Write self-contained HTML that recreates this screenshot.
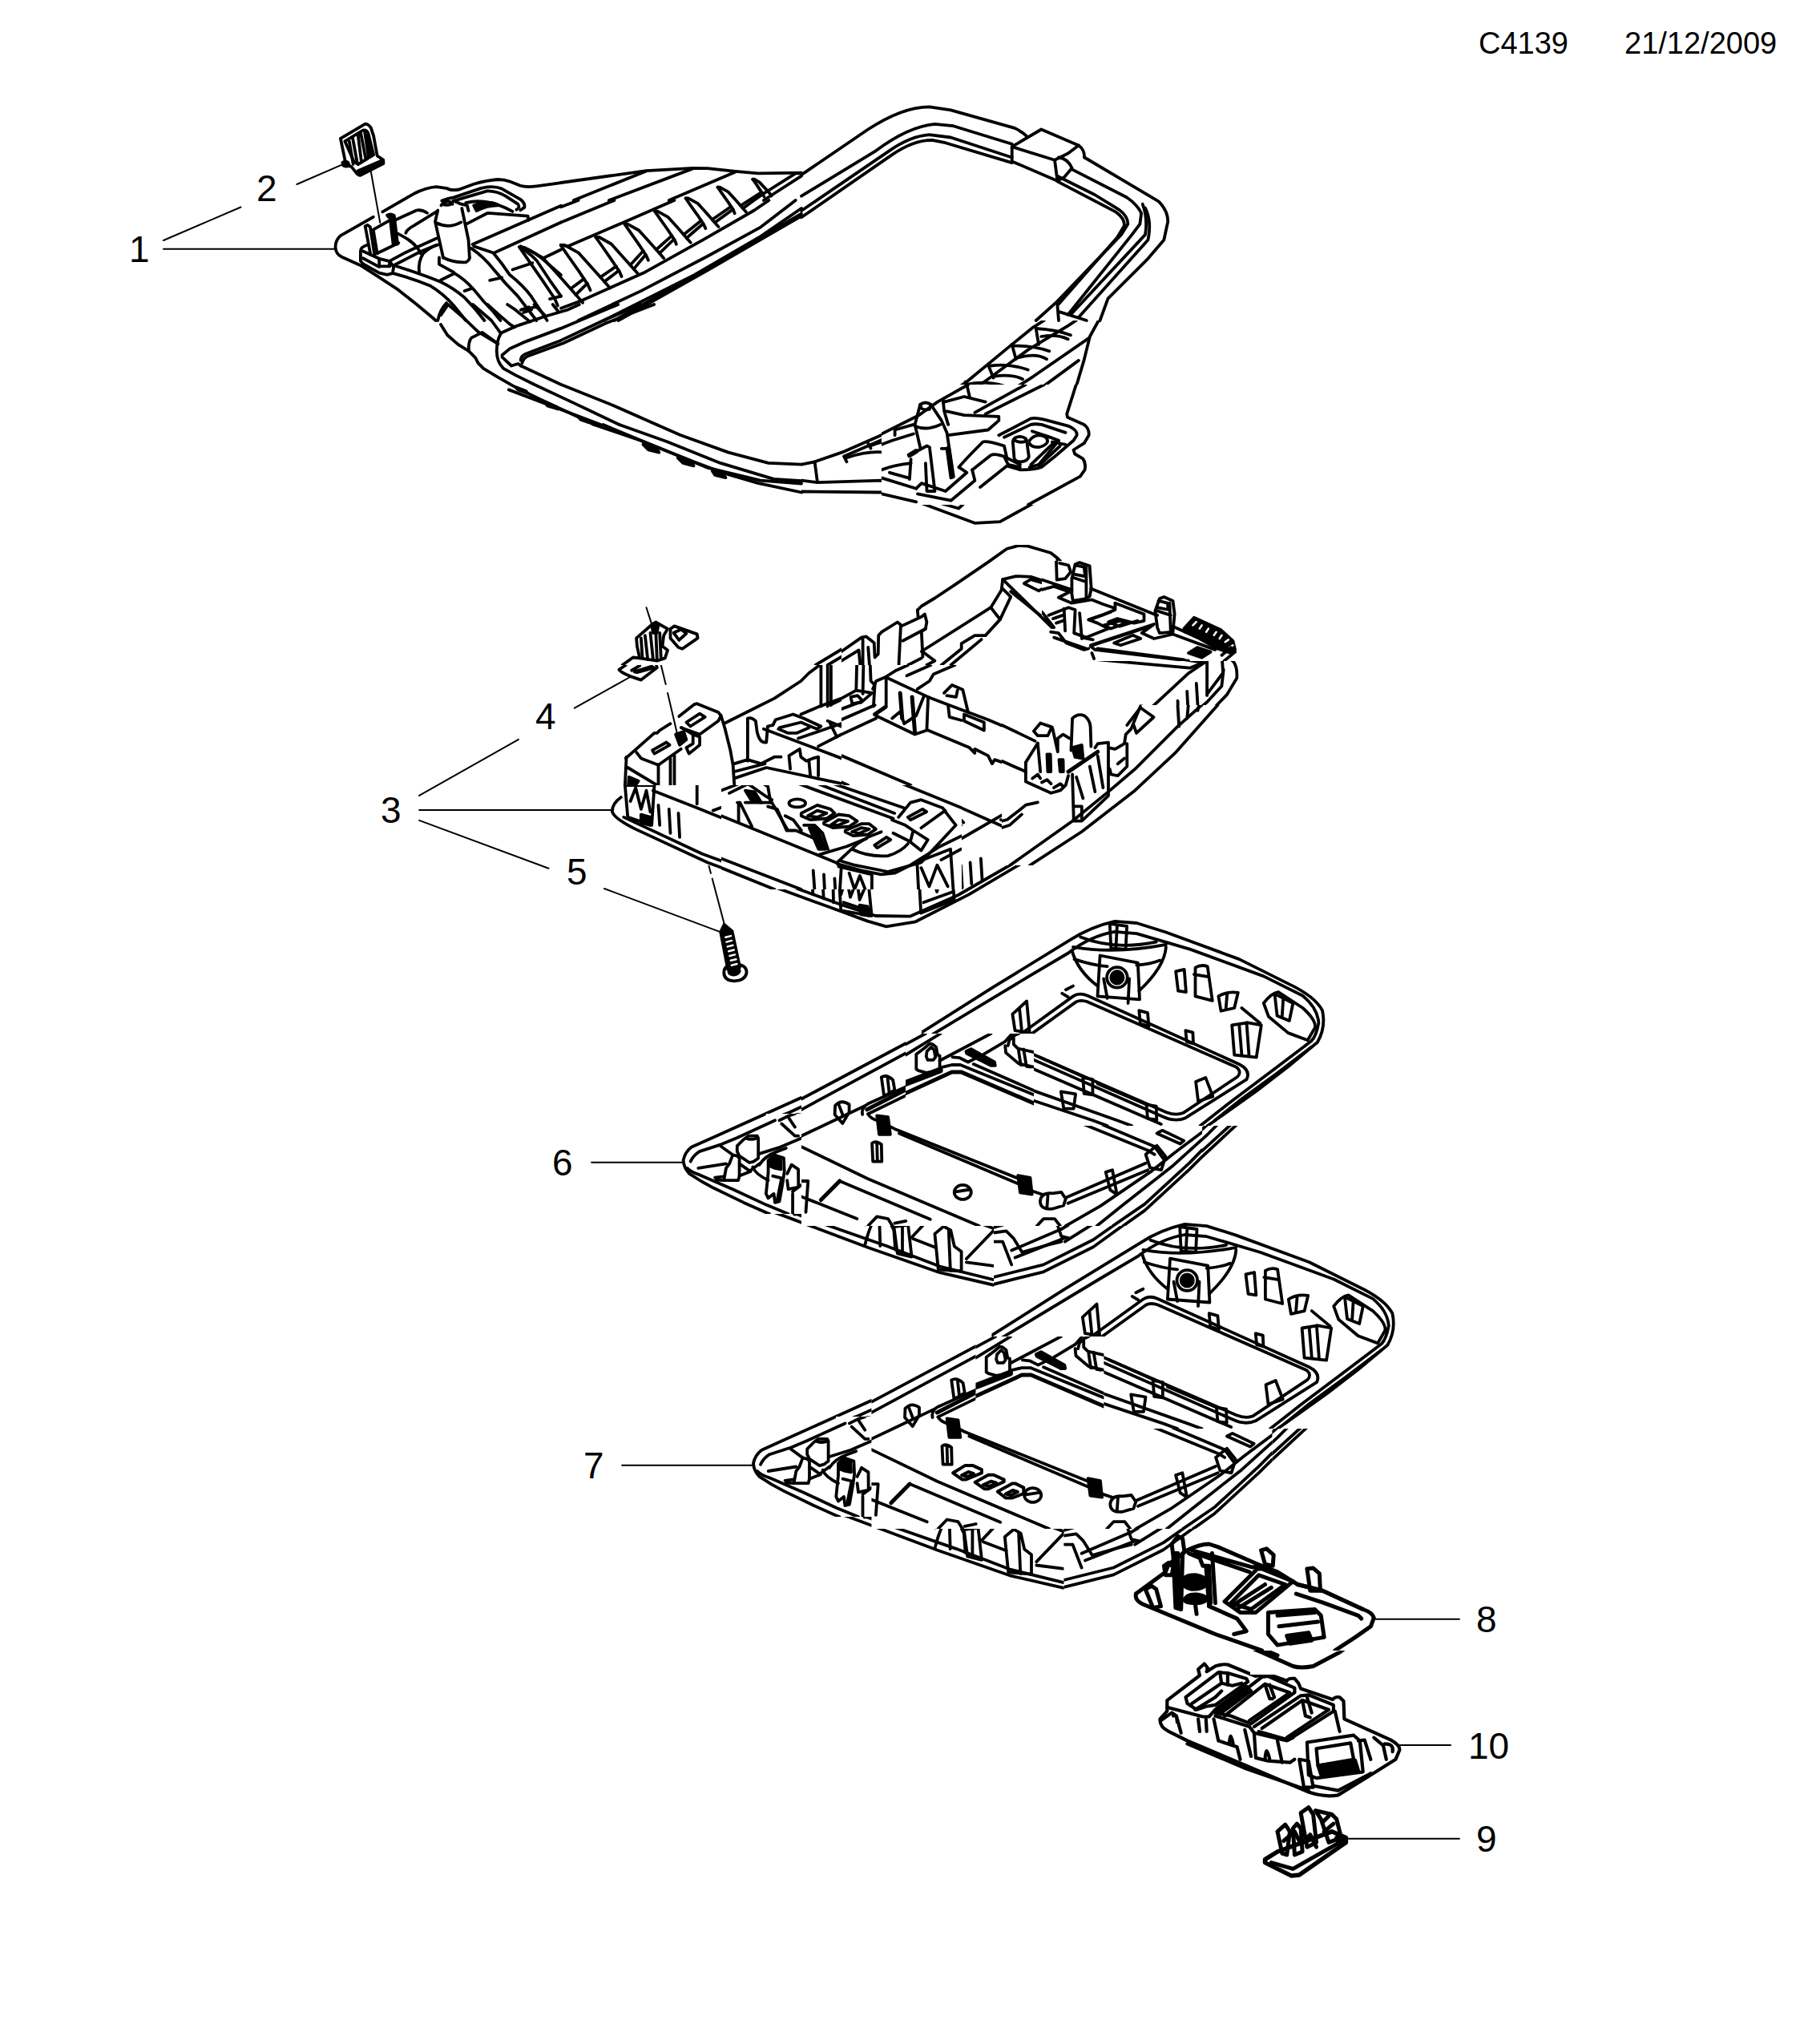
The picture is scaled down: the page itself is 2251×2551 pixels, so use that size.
<!DOCTYPE html>
<html><head><meta charset="utf-8">
<style>
html,body{margin:0;padding:0;background:#fff;width:2251px;height:2551px;overflow:hidden}
svg{display:block}
text{font-family:"Liberation Sans",sans-serif;fill:#000}
</style></head><body>
<svg width="2251" height="2551" viewBox="0 0 2251 2551">
<g font-size="38">
<text x="1845" y="67">C4139</text>
<text x="2027" y="67">21/12/2009</text>
</g>
<g font-size="46">
<text x="161" y="327">1</text>
<text x="320" y="251">2</text>
<text x="475" y="1027">3</text>
<text x="668" y="910">4</text>
<text x="707" y="1104">5</text>
<text x="689" y="1467">6</text>
<text x="728" y="1845">7</text>
<text x="1842" y="2037">8</text>
<text x="1832" y="2195">10</text>
<text x="1842" y="2311">9</text>
</g>
<g stroke="#000" fill="none" stroke-linecap="round" stroke-linejoin="round">
<g id="00_leaders">
<path d="M 204.0 300.0 L 300.5 258.5" stroke-width="2.0"/>
<path d="M 204.0 310.8 H 419.4" stroke-width="2.0"/>
<path d="M 370.4 230.0 L 426.0 205.8" stroke-width="2.0"/>
<path d="M 523.1 992.9 L 647.0 922.8" stroke-width="2.0"/>
<path d="M 716.9 883.7 L 787.0 844.5" stroke-width="2.0"/>
<path d="M 523.1 1010.9 H 761.8" stroke-width="2.0"/>
<path d="M 523.1 1023.9 L 684.5 1083.7" stroke-width="2.0"/>
<path d="M 738.1 1450.7 H 852.9" stroke-width="2.0"/>
<path d="M 776.2 1828.8 H 940.3" stroke-width="2.0"/>
<path d="M 1716.6 2020.7 H 1820.9" stroke-width="2.0"/>
<path d="M 1747.0 2178.0 H 1810.0" stroke-width="2.0"/>
<path d="M 1680.0 2294.7 H 1820.9" stroke-width="2.0"/>
</g>
<g id="10_p1A">
<path d="M 424.9 172.9 L 455.7 154.6 Q 459.5 154.6 462.9 159.6 L 466.2 169.9 L 470.7 194.5 L 478.2 199.5 L 478.5 204.0 L 449.6 218.8 Q 446.6 218.8 444.1 215.2 L 438.6 208.2 L 431.6 205.2 L 424.9 172.9" stroke-width="3.8"/>
<path d="M 430.3 176.3 L 452.9 162.5 Q 457.4 161.6 459.5 166.6 L 466.2 193.2 L 446.9 205.2 L 441.6 201.5 Z" stroke-width="3.8"/>
<path d="M 435.8 176.6 L 440.7 204.9 M 439.9 171.6 L 445.7 202.9 M 446.6 167.4 L 450.7 199.9 M 449.9 164.9 L 456.5 199.0 M 454.9 163.3 L 459.9 196.5 M 458.2 169.1 L 463.2 194.9" stroke-width="3.8"/>
<path d="M 446.6 213.2 L 475.7 200.7 M 448.2 215.7 L 477.3 202.9" stroke-width="3.8"/>
<path d="M 427.4 202.9 Q 429.9 200.7 434.1 202.4 L 435.8 206.5 Q 432.4 208.5 428.3 206.5 Z" fill="#000" stroke="#000" stroke-width="3.8"/>
<path d="M 477.3 264.4 L 516.4 241.8 Q 531.4 234.0 544.7 233.1 L 558.0 235.1 Q 562.1 238.1 572.9 236.5 L 591.2 229.8 Q 607.9 224.8 621.2 224.0 Q 629.5 224.0 636.1 226.5 L 649.4 231.8 Q 656.1 234.0 669.4 232.3 L 700.0 228.1" stroke-width="3.8"/>
<path d="M 551.3 250.6 Q 559.6 247.3 566.3 246.4 L 599.6 235.1 Q 614.5 231.1 626.2 235.6 L 649.4 248.9 Q 655.3 253.1 654.4 258.9 L 649.4 262.2" stroke-width="3.8"/>
<path d="M 566.3 250.6 L 607.9 238.4 Q 619.5 238.1 631.2 244.8 L 646.1 254.7 Q 649.4 258.9 644.5 261.7" stroke-width="3.8"/>
<path d="M 581.3 253.1 Q 607.9 246.4 639.5 263.9" stroke-width="3.8"/>
<path d="M 591.2 256.4 Q 607.9 249.8 619.5 254.7 L 621.2 256.4 Q 607.9 256.4 594.6 263.1 Z" fill="#000" stroke="#000" stroke-width="3.8"/>
<path d="M 552.2 254.7 Q 557.2 257.2 563.0 254.7 M 550.5 256.4 Q 553.0 251.8 559.6 251.4 Q 563.8 252.3 564.6 254.7" stroke-width="3.8"/>
<path d="M 565.5 250.6 L 575.4 254.7 L 582.9 256.4 L 584.6 263.1" stroke-width="3.8"/>
<path d="M 462.4 211.8 L 474.3 278.0" stroke-width="2.0"/>
<path d="M 465.7 270.8 L 424.9 294.1 Q 418.3 299.9 418.6 309.0 Q 419.1 317.4 426.6 320.7 L 449.9 331.2 L 473.2 346.1 L 496.5 361.4 L 519.7 379.7 L 534.7 392.2 L 543.8 400.0" stroke-width="3.8"/>
<path d="M 458.2 305.7 Q 449.9 308.2 449.9 313.2 L 449.9 325.7 L 453.2 329.5 L 473.2 340.6 L 483.1 342.8 L 489.8 341.1 L 491.1 334.0" stroke-width="3.8"/>
<path d="M 452.9 313.5 L 473.2 322.8 L 486.5 326.2 L 491.1 333.1" stroke-width="3.8"/>
<path d="M 452.9 322.3 L 473.2 333.1 M 473.2 323.2 L 473.2 332.3 M 486.5 326.5 L 485.6 332.3 M 473.2 332.3 L 486.5 332.3" stroke-width="3.8"/>
<path d="M 455.7 282.4 L 458.5 280.8 L 461.9 283.3 L 467.4 318.2 M 455.7 282.4 L 462.4 318.2" stroke-width="3.8"/>
<path d="M 465.7 286.6 L 486.5 274.9 M 465.7 286.6 L 470.7 316.5 M 471.5 315.7 L 497.3 303.2" stroke-width="3.8"/>
<path d="M 483.1 268.6 Q 487.3 265.8 491.8 269.1 L 496.1 304.5 L 490.6 304.9 L 486.8 272.5 Q 484.8 271.6 483.1 268.6 Z" fill="#000" stroke="#000" stroke-width="3.8"/>
<path d="M 492.3 274.9 L 519.7 262.5 Q 526.4 261.3 533.0 265.8" stroke-width="3.8"/>
<path d="M 506.4 290.7 Q 508.1 285.8 516.4 281.6 L 544.7 264.1" stroke-width="3.8"/>
<path d="M 486.5 325.7 L 506.4 314.9 L 544.7 297.4" stroke-width="3.8"/>
<path d="M 493.1 330.2 L 524.7 314.0 L 544.7 305.7" stroke-width="3.8"/>
<path d="M 496.5 291.6 Q 513.1 299.9 519.7 308.2 Q 523.9 313.2 524.7 316.5" stroke-width="3.8"/>
<path d="M 523.1 340.6 Q 521.4 326.5 528.0 316.5 Q 536.4 308.2 546.3 305.7" stroke-width="3.8"/>
<path d="M 546.3 262.5 L 543.0 276.6 L 553.0 321.5" stroke-width="3.8"/>
<path d="M 576.3 260.0 L 584.6 299.9 L 585.9 321.5" stroke-width="3.8"/>
<path d="M 544.7 278.3 Q 559.6 285.8 575.4 277.4" stroke-width="3.8"/>
<path d="M 553.0 321.5 Q 566.3 328.2 581.3 327.3 Q 585.9 324.8 585.9 321.5" stroke-width="3.8"/>
<path d="M 548.0 321.5 L 548.0 329.8 L 566.3 339.8" stroke-width="3.8"/>
<path d="M 582.9 279.1 L 608.7 265.8 L 658.6 269.6 L 659.4 274.9" stroke-width="3.8"/>
<path d="M 589.6 304.9 L 700.0 256.7" stroke-width="3.8"/>
<path d="M 591.2 307.4 L 616.2 315.7 L 700.0 277.4" stroke-width="3.8"/>
<path d="M 490.6 341.1 Q 516.4 348.1 536.4 356.4 Q 553.0 366.4 566.3 381.4 L 581.3 400.0" stroke-width="3.8"/>
<path d="M 492.3 331.5 Q 526.4 342.3 549.7 351.8 Q 566.3 359.8 579.6 371.4 Q 592.9 384.7 604.5 400.0" stroke-width="3.8"/>
<path d="M 566.3 340.6 Q 579.6 348.1 591.2 361.4 Q 602.9 376.4 616.2 389.7 L 624.5 400.0" stroke-width="3.8"/>
<path d="M 587.9 309.9 Q 602.9 319.8 616.2 336.5 Q 629.5 353.1 646.1 369.7 L 669.4 400.0" stroke-width="3.8"/>
<path d="M 616.2 316.5 Q 626.2 328.2 636.1 343.1 Q 652.8 356.4 662.7 369.7 L 682.7 400.0" stroke-width="3.8"/>
<path d="M 647.8 308.2 Q 659.4 314.9 669.4 324.8 L 686.0 349.8 L 700.0 369.7" stroke-width="3.8"/>
<path d="M 649.4 307.4 Q 669.4 314.9 682.7 328.2 L 700.0 343.1" stroke-width="3.8"/>
<path d="M 549.7 349.8 L 566.3 341.5 M 579.6 363.1 L 589.6 359.8 M 611.2 349.8 L 626.2 346.5 M 639.5 336.5 L 664.4 328.2 M 651.1 386.4 L 669.4 383.0 M 686.0 373.1 L 700.0 369.7 M 679.4 321.5 L 700.0 311.5" stroke-width="3.8"/>
<path d="M 546.3 400.0 Q 548.8 386.4 557.2 378.0" stroke-width="3.8"/>
</g>
<g id="10_p1B">
<path d="M 1000.0 218.1 L 1083.1 161.5 Q 1126.4 133.3 1159.6 133.3 L 1186.3 137.3 L 1266.1 159.9 Q 1276.1 164.9 1281.0 169.8" stroke-width="3.8"/>
<path d="M 1000.0 244.7 L 1093.1 188.1 Q 1133.0 158.2 1166.3 154.9 L 1189.6 157.2 L 1262.7 179.8" stroke-width="3.8"/>
<path d="M 1000.0 263.0 L 1109.8 188.1 Q 1136.4 169.8 1159.6 168.2 L 1186.3 171.5 L 1262.7 196.5" stroke-width="3.8"/>
<path d="M 1000.0 271.3 L 1113.1 193.1 Q 1139.7 174.8 1163.0 174.8 L 1179.6 178.2 L 1262.7 203.1" stroke-width="3.8"/>
<path d="M 1319.3 219.7 L 1365.9 243.0 L 1395.8 261.3 Q 1407.4 269.6 1407.4 279.6 L 1399.1 292.9 L 1319.3 376.1 L 1292.7 400.0" stroke-width="3.8"/>
<path d="M 1319.3 226.4 L 1392.5 264.6 Q 1403.1 272.3 1403.1 281.3 L 1394.1 296.2 L 1321.0 379.4" stroke-width="3.8"/>
<path d="M 1262.7 199.8 L 1262.7 183.1 L 1299.3 161.5 L 1345.9 181.5 Q 1353.2 186.5 1353.2 196.5" stroke-width="3.8"/>
<path d="M 1262.7 183.1 L 1316.0 199.8 L 1332.6 191.5 L 1345.9 181.5" stroke-width="3.8"/>
<path d="M 1316.0 199.8 L 1319.3 224.7" stroke-width="3.8"/>
<path d="M 1262.7 201.4 L 1319.3 225.7" stroke-width="3.8"/>
<path d="M 1321.0 196.5 Q 1332.6 198.1 1337.6 209.8 L 1327.6 221.4 L 1321.0 224.7" stroke-width="3.8"/>
<path d="M 1353.2 196.5 L 1409.1 229.7 L 1445.7 251.3 Q 1457.3 263.0 1457.3 276.3 L 1452.3 299.6 L 1432.4 322.8 L 1382.5 372.7 L 1372.5 400.0" stroke-width="3.8"/>
<path d="M 1337.6 211.4 L 1405.8 246.3 Q 1419.7 255.7 1424.1 266.3 L 1422.4 279.6 L 1412.4 292.9 L 1332.6 392.7" stroke-width="3.8"/>
<path d="M 1425.7 254.7 Q 1432.4 272.9 1429.0 292.9 L 1335.9 392.7" stroke-width="3.8"/>
<path d="M 1429.0 259.6 Q 1437.4 276.3 1432.4 299.6 L 1345.9 396.0" stroke-width="3.8"/>
<path d="M 1319.3 379.4 L 1321.0 400.0" stroke-width="3.8"/>
<path d="M 1322.6 389.4 L 1355.9 400.0" stroke-width="3.8"/>
</g>
<g id="11_p1A2">
<path d="M 700.0 228.0 L 806.4 213.1 L 864.6 209.8 L 882.9 210.1 L 917.8 213.9 L 946.1 216.4 L 1000.0 215.6" stroke-width="3.8"/>
<path d="M 715.8 250.0 L 806.4 213.4" stroke-width="3.8"/>
<path d="M 759.9 250.0 L 864.6 210.4" stroke-width="3.8"/>
<path d="M 834.7 250.0 L 917.8 214.4" stroke-width="3.8"/>
<path d="M 939.5 250.0 L 992.7 216.4 L 1000.0 216.4" stroke-width="3.8"/>
<path d="M 952.8 250.0 L 1000.0 219.7" stroke-width="3.8"/>
<path d="M 700.0 258.3 L 721.6 250.0" stroke-width="3.8"/>
<path d="M 700.0 277.4 L 766.5 250.0" stroke-width="3.8"/>
<path d="M 700.0 305.7 L 708.3 307.4 L 778.2 277.4 L 841.4 250.0" stroke-width="3.8"/>
<path d="M 700.0 384.7 L 726.6 374.7 L 803.1 340.6 L 876.3 299.9 L 941.1 262.5 L 959.4 250.0" stroke-width="3.8"/>
<path d="M 721.6 400.0 L 799.8 363.1 L 882.9 319.8 L 949.4 283.3 L 992.7 250.0" stroke-width="3.8"/>
<path d="M 753.2 400.0 L 866.3 343.1 L 949.4 294.9 L 1000.0 260.0" stroke-width="3.8"/>
<path d="M 766.5 400.0 L 882.9 334.8 L 1000.0 266.6" stroke-width="3.8"/>
<path d="M 771.5 400.0 L 882.9 337.3 L 1000.0 269.6" stroke-width="3.8"/>
<path d="M 648.6 309.2 L 659.8 325.4 L 677.2 350.4 L 692.2 372.8 L 695.9 381.6" stroke-width="3.8"/>
<path d="M 648.6 309.2 L 654.8 309.2 L 677.2 321.7 L 699.7 346.6 L 719.6 369.1 L 727.1 377.8" stroke-width="3.8"/>
<path d="M 712.2 360.3 L 728.9 347.9" stroke-width="3.8"/>
<path d="M 718.4 367.8 L 732.9 353.6" stroke-width="3.8"/>
<path d="M 699.7 306.0 L 708.4 318.7 L 722.1 338.1 L 733.6 355.6 L 736.6 362.3" stroke-width="3.8"/>
<path d="M 699.7 306.0 L 704.7 306.0 L 722.1 315.7 L 739.6 335.2 L 755.1 352.6 L 761.1 359.6" stroke-width="3.8"/>
<path d="M 749.3 345.9 L 768.8 332.4" stroke-width="3.8"/>
<path d="M 754.1 351.6 L 772.3 337.6" stroke-width="3.8"/>
<path d="M 743.3 296.0 L 751.1 307.0 L 762.8 323.9 L 773.0 339.1 L 775.5 345.1" stroke-width="3.8"/>
<path d="M 743.3 296.0 L 747.6 296.0 L 762.8 304.5 L 778.0 321.4 L 791.7 336.7 L 796.7 342.6" stroke-width="3.8"/>
<path d="M 786.5 330.7 L 802.7 313.0" stroke-width="3.8"/>
<path d="M 790.7 335.9 L 805.7 317.7" stroke-width="3.8"/>
<path d="M 779.5 279.8 L 786.5 289.8 L 797.2 305.2 L 806.5 319.2 L 808.9 324.7" stroke-width="3.8"/>
<path d="M 779.5 279.8 L 783.5 279.8 L 797.2 287.5 L 811.2 303.0 L 823.7 316.9 L 828.2 322.2" stroke-width="3.8"/>
<path d="M 818.9 311.5 L 838.4 294.2" stroke-width="3.8"/>
<path d="M 822.9 316.2 L 841.1 298.5" stroke-width="3.8"/>
<path d="M 816.9 263.6 L 823.4 272.8 L 833.4 287.0 L 841.9 299.7 L 843.9 304.7" stroke-width="3.8"/>
<path d="M 816.9 263.6 L 820.4 263.6 L 833.4 270.8 L 846.1 284.8 L 857.3 297.7 L 861.8 302.7" stroke-width="3.8"/>
<path d="M 853.1 292.7 L 875.0 275.3" stroke-width="3.8"/>
<path d="M 856.8 297.0 L 877.5 279.0" stroke-width="3.8"/>
<path d="M 855.6 247.4 L 861.3 255.8 L 870.6 268.8 L 878.3 280.5 L 880.3 285.0" stroke-width="3.8"/>
<path d="M 855.6 247.4 L 858.8 247.4 L 870.6 253.8 L 882.3 266.8 L 892.5 278.5 L 896.5 283.0" stroke-width="3.8"/>
<path d="M 888.8 274.0 L 912.2 257.8" stroke-width="3.8"/>
<path d="M 892.0 277.8 L 914.7 261.1" stroke-width="3.8"/>
<path d="M 895.5 233.6 L 900.5 240.9 L 908.5 252.1 L 915.2 262.3 L 916.7 266.3" stroke-width="3.8"/>
<path d="M 895.5 233.6 L 898.2 233.6 L 908.5 239.4 L 918.5 250.3 L 927.4 260.6 L 930.9 264.6" stroke-width="3.8"/>
<path d="M 924.2 256.6 L 950.4 239.9" stroke-width="3.8"/>
<path d="M 926.9 260.1 L 951.9 241.9" stroke-width="3.8"/>
<path d="M 939.2 223.7 L 942.6 228.4 L 947.6 235.9 L 952.1 242.9 L 953.4 245.4" stroke-width="3.8"/>
<path d="M 939.2 223.7 L 941.2 223.7 L 947.6 227.4 L 954.6 234.9 L 960.6 241.6 L 962.6 244.4" stroke-width="3.8"/>
</g>
<g id="12_p1C">
<path d="M 550.0 404.9 L 558.3 418.2 L 571.6 429.9 L 584.9 438.2 L 593.2 446.5 L 596.6 453.2 L 603.2 459.8 L 619.8 469.8 L 639.8 481.4 L 666.4 494.7 L 691.4 506.4 L 716.3 518.0 L 741.2 530.0" stroke-width="3.8"/>
<path d="M 550.0 393.3 L 557.5 382.5" stroke-width="3.8"/>
<path d="M 559.1 380.0 L 578.3 396.6 L 596.6 414.1 L 619.8 428.2" stroke-width="3.8"/>
<path d="M 589.9 380.0 L 613.2 400.0 L 624.8 415.8" stroke-width="3.8"/>
<path d="M 608.2 380.0 L 623.2 393.3 L 636.5 404.9 L 642.3 408.3" stroke-width="3.8"/>
<path d="M 633.1 380.0 L 643.1 386.7 L 661.4 401.6" stroke-width="3.8"/>
<path d="M 649.8 386.7 L 659.8 383.3 M 653.1 390.0 L 663.1 386.7" stroke-width="3.8"/>
<path d="M 666.4 380.0 L 679.7 393.3 M 689.7 380.0 L 696.3 388.3" stroke-width="3.8"/>
<path d="M 624.8 415.8 L 643.1 407.4 L 679.7 395.0 L 708.0 386.7 L 722.9 380.0" stroke-width="3.8"/>
<path d="M 624.8 416.6 Q 619.8 424.9 619.8 438.2 Q 619.8 451.5 628.2 459.8 L 643.1 468.1 L 666.4 479.8 L 716.3 503.1 L 772.8 530.0" stroke-width="3.8"/>
<path d="M 626.5 443.2 L 636.5 434.9 L 653.1 427.4 L 699.7 409.9 L 771.2 380.0" stroke-width="3.8"/>
<path d="M 626.5 445.7 L 638.1 456.5 L 646.5 454.0 L 649.8 456.5" stroke-width="3.8"/>
<path d="M 649.8 449.8 Q 649.8 444.0 656.4 441.5 L 699.7 424.9 L 752.9 400.0 L 799.4 380.0" stroke-width="3.8"/>
<path d="M 651.4 453.2 Q 653.1 446.5 659.8 444.0 L 703.0 428.2 L 756.2 403.3 L 816.1 380.0" stroke-width="3.8"/>
<path d="M 649.8 456.5 L 699.7 479.8 L 766.2 506.4 L 819.4 530.0" stroke-width="3.8"/>
<path d="M 584.9 438.2 Q 584.1 426.6 588.2 421.6 L 601.6 414.9 L 621.5 429.1" stroke-width="3.8"/>
<path d="M 634.8 486.4 L 749.6 530.0" stroke-width="3.8"/>
<path d="M 643.1 483.1 L 656.4 488.1 L 658.1 490.6 L 646.5 486.4 Z" fill="#000" stroke="#000" stroke-width="3.8"/>
<path d="M 679.7 501.4 L 694.7 508.0 L 696.3 510.5 L 683.0 506.4 Z" fill="#000" stroke="#000" stroke-width="3.8"/>
<path d="M 721.3 519.7 L 732.9 524.7 L 734.6 527.2 L 724.6 523.8 Z" fill="#000" stroke="#000" stroke-width="3.8"/>
<path d="M 741.2 530.0 L 799.1 549.7 L 865.6 576.3 L 905.5 591.2 L 945.5 602.9 L 1000.0 614.5" stroke-width="3.8"/>
<path d="M 752.5 530.0 L 815.7 556.3 L 882.3 583.6 L 948.8 599.6 L 1000.0 603.5" stroke-width="3.8"/>
<path d="M 772.8 530.0 L 832.4 551.3 L 898.9 577.9 L 965.4 597.9 L 1000.0 600.2" stroke-width="3.8"/>
<path d="M 819.4 530.0 L 849.0 543.0 L 908.9 564.6 L 958.8 577.9 L 1000.0 579.6" stroke-width="3.8"/>
<path d="M 802.4 554.7 L 819.1 559.6 L 822.4 564.6 L 809.1 561.3 Z" fill="#000" stroke="#000" stroke-width="3.8"/>
<path d="M 845.7 571.3 L 862.3 576.3 L 865.6 581.3 L 852.3 577.9 Z" fill="#000" stroke="#000" stroke-width="3.8"/>
<path d="M 888.9 587.9 L 902.2 591.2 L 905.5 596.2 L 892.2 592.9 Z" fill="#000" stroke="#000" stroke-width="3.8"/>
</g>
<g id="13_p1D">
<clipPath id="c1"><path clip-rule="evenodd" d="M1000.0 400.0H1600.0V700.0H1000.0ZM1100.0 480.0V630.0H1400.0V480.0Z"/></clipPath><g clip-path="url(#c1)">
<path d="M 1000.0 613.5 L 1099.8 614.5 L 1146.3 626.8 L 1216.2 652.8 L 1247.8 651.1 L 1347.6 596.2 Q 1355.2 587.9 1353.2 574.6 Q 1350.9 566.3 1339.2 563.0 Q 1357.5 551.3 1357.5 536.4 Q 1356.5 528.0 1345.9 524.7 L 1331.9 519.1 L 1352.5 449.9 L 1359.9 420.0 L 1370.8 400.0" stroke-width="3.8"/>
<path d="M 1000.0 599.6 L 1020.0 602.2 L 1099.8 599.6 L 1143.0 619.5 L 1196.2 634.5 L 1219.5 612.9 L 1259.4 584.6 L 1286.0 586.3" stroke-width="3.8"/>
<path d="M 1000.0 579.6 L 1016.6 576.3 L 1053.2 563.6 L 1114.7 536.4 L 1156.3 509.8 L 1206.2 476.5 L 1262.7 429.9 L 1289.4 408.3 L 1302.7 400.0" stroke-width="3.8"/>
<path d="M 1016.6 576.3 L 1020.0 602.2" stroke-width="3.8"/>
<path d="M 1053.2 569.6 L 1133.0 534.7 L 1176.3 513.1 L 1232.8 473.2 L 1282.7 436.6 L 1332.6 406.7 L 1342.6 400.0" stroke-width="3.8"/>
<path d="M 1216.2 516.4 L 1289.4 469.8 L 1359.2 421.6" stroke-width="3.8"/>
<path d="M 1246.1 523.1 L 1345.9 449.9" stroke-width="3.8"/>
<path d="M 1053.2 569.6 L 1056.5 576.3 M 1083.1 553.0 L 1086.5 559.6 M 1114.7 536.4 L 1118.1 543.0 M 1174.6 498.1 L 1176.3 513.1 M 1204.5 476.5 L 1207.9 496.5 M 1232.8 454.9 L 1239.5 471.5 M 1262.7 429.9 L 1267.7 448.2 M 1292.7 410.0 L 1296.0 429.9" stroke-width="3.8"/>
<path d="M 1056.5 571.3 Q 1099.8 556.3 1133.0 572.9 M 1086.5 556.3 Q 1109.8 546.3 1126.4 553.0 M 1176.3 499.8 Q 1199.6 494.8 1216.2 514.7 M 1206.2 479.8 Q 1229.5 474.8 1252.8 481.5 M 1236.1 456.5 Q 1259.4 453.2 1282.7 461.5 M 1266.1 431.6 Q 1289.4 431.6 1309.3 438.2 M 1292.7 410.0 Q 1319.3 411.6 1335.9 418.3" stroke-width="3.8"/>
<path d="M 1209.5 499.8 Q 1232.8 489.8 1252.8 499.8 M 1239.5 469.8 Q 1262.7 466.5 1276.1 473.2 M 1269.4 446.6 Q 1292.7 439.9 1306.0 448.2 M 1299.3 420.0 Q 1319.3 416.6 1332.6 423.3" stroke-width="3.8"/>
<path d="M 1146.3 508.1 Q 1156.3 499.8 1164.6 506.4 L 1176.3 533.0 L 1186.3 592.9" stroke-width="3.8"/>
<path d="M 1146.3 509.8 L 1143.0 536.4 L 1149.7 572.9 L 1158.0 586.3" stroke-width="3.8"/>
<path d="M 1144.7 533.0 Q 1159.6 539.7 1176.3 531.4" stroke-width="3.8"/>
<path d="M 1156.3 556.3 L 1166.3 612.9" stroke-width="3.8"/>
<path d="M 1134.7 576.3 L 1154.7 561.3 L 1159.0 599.6 L 1137.0 599.6 Z" fill="#000" stroke="#000" stroke-width="3.8"/>
<path d="M 1143.0 606.2 L 1146.3 626.2 M 1146.3 606.2 L 1196.2 626.2 L 1212.9 612.9 L 1199.6 592.9 L 1146.3 606.2 M 1172.9 612.9 L 1199.6 599.6" stroke-width="3.8"/>
<path d="M 1184.6 543.0 L 1232.8 536.4 L 1246.1 529.7 M 1196.2 586.3 L 1229.5 551.3 L 1246.1 553.0 L 1256.1 566.3 L 1262.7 569.6 M 1206.2 596.2 L 1239.5 566.3 L 1256.1 569.6 L 1266.1 579.6 L 1282.7 584.6" stroke-width="3.8"/>
<path d="M 1262.7 553.0 A 9.3 9.3 0 1 1 1281.4 553.0 A 9.3 9.3 0 1 1 1262.7 553.0 Z" stroke-width="3.8"/>
<path d="M 1262.7 556.3 L 1266.1 576.3 Q 1272.7 581.3 1282.7 576.3 L 1284.4 556.3" stroke-width="3.8"/>
<path d="M 1252.8 543.0 Q 1269.4 524.7 1292.7 523.1 L 1332.6 531.4 Q 1345.9 536.4 1342.6 546.3 L 1289.4 586.3" stroke-width="3.8"/>
<path d="M 1262.7 546.3 Q 1279.4 531.4 1296.0 531.4 L 1329.3 538.0 L 1332.6 544.7 L 1286.0 579.6" stroke-width="3.8"/>
<path d="M 1282.7 556.3 L 1319.3 553.0 L 1329.3 556.3 L 1289.4 582.9" stroke-width="3.8"/>
</g>
</g>
<g id="14_p1Z11">
<clipPath id="c2"><path clip-rule="evenodd" d="M1100.0 480.0H1400.0V630.0H1100.0Z"/></clipPath><g clip-path="url(#c2)">
<path d="M 1342.8 480.0 L 1331.2 516.6 L 1332.0 520.7 L 1352.8 529.9 Q 1359.4 534.9 1358.6 543.2 L 1352.8 553.2 L 1339.5 561.5 L 1341.1 566.5 L 1351.1 572.3 Q 1355.3 578.1 1353.6 586.4 L 1347.8 594.7 L 1282.9 630.0" stroke-width="3.8"/>
<path d="M 1246.3 543.2 L 1286.3 522.4 Q 1291.2 520.7 1302.9 523.6 L 1332.8 531.6 Q 1344.5 536.5 1343.6 543.2 L 1339.5 549.8 L 1316.2 569.8 L 1299.6 583.1 Q 1291.2 586.4 1274.6 586.4" stroke-width="3.8"/>
<path d="M 1253.0 545.7 L 1286.3 529.9 Q 1291.2 528.6 1299.6 529.9 L 1329.5 539.9" stroke-width="3.8"/>
<path d="M 1287.9 538.2 L 1307.9 544.9 L 1321.2 549.8 L 1296.2 579.8 L 1284.6 583.1" stroke-width="3.8"/>
<path d="M 1263.8 551.5 Q 1264.6 544.9 1272.9 544.9 Q 1281.3 545.7 1281.3 551.5 L 1283.8 569.8 Q 1282.9 575.6 1272.9 576.5 Q 1266.3 575.6 1265.5 571.5 Z" stroke-width="3.8"/>
<path d="M 1266.3 549.8 Q 1272.9 553.2 1279.6 550.7" stroke-width="3.8"/>
<path d="M 1284.6 549.8 Q 1289.6 543.2 1297.9 543.2 Q 1307.9 544.9 1307.0 551.5 Q 1304.5 556.5 1296.2 558.2 Q 1286.3 558.2 1284.6 553.2" stroke-width="3.8"/>
<path d="M 1286.3 579.8 L 1316.2 551.5 M 1296.2 581.4 L 1322.8 556.5 M 1312.9 551.5 L 1329.5 554.8" stroke-width="3.8"/>
<path d="M 1196.5 583.1 Q 1203.1 574.8 1226.4 551.5 Q 1231.4 549.8 1253.0 556.5 L 1256.3 571.5 L 1272.9 579.8" stroke-width="3.8"/>
<path d="M 1213.1 586.4 L 1236.4 568.1 Q 1241.4 565.6 1253.0 569.8 L 1258.0 579.8 L 1272.9 583.1" stroke-width="3.8"/>
<path d="M 1223.1 608.0 L 1256.3 581.4 L 1272.9 586.4" stroke-width="3.8"/>
<path d="M 1148.2 504.9 Q 1154.9 500.0 1161.5 504.9 L 1159.9 510.8 Q 1154.9 512.4 1149.9 509.9 Z" stroke-width="3.8"/>
<path d="M 1148.2 504.9 L 1141.6 529.9 L 1148.2 558.2 M 1161.5 504.9 L 1174.8 524.9 L 1181.5 539.9 L 1189.8 594.7" stroke-width="3.8"/>
<path d="M 1141.6 531.6 Q 1154.9 538.2 1173.2 529.9" stroke-width="3.8"/>
<path d="M 1134.9 568.1 L 1156.5 556.5 L 1159.9 558.2 L 1166.5 613.0 L 1156.5 613.0 L 1154.9 578.1" stroke-width="3.8"/>
<path d="M 1136.6 573.1 L 1134.9 598.1" stroke-width="3.8"/>
<path d="M 1134.9 568.1 L 1143.2 563.1 M 1183.1 559.8 L 1188.1 594.7" stroke-width="6.0"/>
<path d="M 1174.8 559.8 L 1181.5 559.8 L 1186.5 596.4" stroke-width="3.8"/>
<path d="M 1143.2 609.7 L 1149.9 603.1 L 1179.8 613.0 L 1206.4 589.8 L 1196.5 583.1" stroke-width="3.8"/>
<path d="M 1144.9 616.4 L 1186.5 624.7 L 1216.4 599.7 L 1213.1 586.4" stroke-width="3.8"/>
<path d="M 1100.0 541.5 L 1146.6 518.2 L 1169.8 501.6 L 1208.1 480.0" stroke-width="3.8"/>
<path d="M 1100.0 554.8 L 1113.3 549.8 L 1139.9 541.5 M 1116.6 536.5 L 1139.9 529.9 M 1116.6 536.5 L 1116.6 543.2" stroke-width="3.8"/>
<path d="M 1176.5 498.3 L 1178.2 513.3 L 1183.1 529.9 M 1178.2 501.6 L 1203.1 495.0 L 1229.7 501.6" stroke-width="3.8"/>
<path d="M 1181.5 513.3 L 1203.1 518.2 L 1246.3 519.9 L 1246.3 524.9 L 1233.0 536.5 L 1183.1 543.2" stroke-width="3.8"/>
<path d="M 1206.4 480.0 L 1209.8 495.0 M 1216.4 514.9 L 1279.6 480.0 M 1229.7 516.6 L 1302.9 480.0" stroke-width="3.8"/>
<path d="M 1100.0 586.4 Q 1116.6 579.8 1136.6 578.1 M 1100.0 596.4 L 1143.2 609.7 M 1100.0 616.4 L 1143.2 626.3 M 1110.0 589.8 L 1133.3 596.4" stroke-width="3.8"/>
</g>
</g>
<g id="20_p3Q">
<clipPath id="c3"><path clip-rule="evenodd" d="M750.0 680.0H1050.0V830.0H750.0Z"/></clipPath><g clip-path="url(#c3)">
<path d="M 806.5 758.2 L 812.9 778.1" stroke-width="2.0"/>
<path d="M 794.1 796.4 L 813.2 779.8 L 818.2 776.5 L 833.1 784.8 L 828.2 793.1 L 826.5 806.4 L 833.1 811.4 L 829.8 821.4 L 819.8 824.7 L 798.2 821.4 L 794.9 806.4 Z" stroke-width="3.8"/>
<path d="M 799.9 796.4 L 801.6 821.4 M 804.9 793.1 L 808.2 823.0 M 811.5 789.8 L 814.9 823.0 M 818.2 786.4 L 819.8 823.0 M 823.2 789.8 L 824.8 821.4" stroke-width="3.8"/>
<path d="M 813.2 779.8 Q 818.2 774.8 821.5 779.8 L 819.8 789.8 L 814.9 789.8 Z" fill="#000" stroke="#000" stroke-width="3.8"/>
<path d="M 836.5 784.8 L 841.5 781.4 L 869.7 791.4 L 870.6 796.4 L 851.4 809.7 L 846.5 808.0 L 836.5 796.4 Z" stroke-width="3.8"/>
<path d="M 840.6 789.8 L 849.8 785.6 L 856.4 790.6 L 847.3 798.9 Z" stroke-width="3.8"/>
<path d="M 776.6 830.0 L 789.9 820.5 L 798.2 821.4" stroke-width="3.8"/>
<path d="M 1017.7 830.0 L 1050.0 810.5 M 1032.7 830.0 L 1050.0 819.7" stroke-width="3.8"/>
</g>
<clipPath id="c4"><path clip-rule="evenodd" d="M1050.0 680.0H1350.0V830.0H1050.0ZM1300.0 700.0V825.0H1350.0V700.0Z"/></clipPath><g clip-path="url(#c4)">
<path d="M 1050.0 813.0 L 1074.9 795.6 L 1080.8 794.4 L 1090.7 802.2 L 1091.6 820.5 L 1095.7 816.4 L 1096.2 793.1 L 1099.9 788.9 L 1119.8 776.5 L 1124.0 779.8 L 1121.5 830.0" stroke-width="3.8"/>
<path d="M 1124.8 781.4 L 1149.8 769.8 L 1153.9 766.5 L 1156.4 776.5 L 1154.8 784.8 L 1149.8 788.1 L 1151.4 819.7" stroke-width="3.8"/>
<path d="M 1126.5 799.7 L 1154.8 784.8" stroke-width="3.8"/>
<path d="M 1144.8 761.5 L 1149.8 756.5 L 1166.4 746.5 L 1191.4 729.9 L 1232.9 701.6 L 1256.2 685.0 L 1271.2 680.8 L 1282.8 681.7 L 1311.1 690.0 L 1319.4 696.6 L 1324.4 701.6 L 1336.0 708.3 L 1337.7 716.6" stroke-width="3.8"/>
<path d="M 1144.8 761.5 L 1145.6 769.8" stroke-width="3.8"/>
<path d="M 1149.8 813.0 L 1236.3 758.2 L 1249.6 736.5 L 1251.2 723.2 L 1267.8 719.1 L 1286.1 719.9 L 1309.4 727.4 L 1337.7 736.5" stroke-width="3.8"/>
<path d="M 1236.3 758.2 L 1247.9 773.1 L 1261.2 744.9 L 1251.2 734.9" stroke-width="3.8"/>
<path d="M 1247.9 773.1 L 1229.6 793.1 L 1216.3 793.1 L 1199.7 803.1 L 1199.7 809.7 L 1174.7 830.0" stroke-width="3.8"/>
<path d="M 1224.6 798.1 L 1186.4 830.0" stroke-width="3.8"/>
<path d="M 1251.2 723.2 L 1312.7 783.1 L 1319.4 793.1" stroke-width="3.8"/>
<path d="M 1261.2 738.2 L 1349.3 809.7" stroke-width="3.8"/>
<path d="M 1277.8 728.2 L 1286.1 723.2 L 1309.4 729.9 L 1296.1 737.4 Z" stroke-width="3.8"/>
<path d="M 1319.4 696.6 L 1321.1 723.2 L 1332.7 721.6 L 1337.7 714.9" stroke-width="3.8"/>
<path d="M 1321.1 746.5 L 1336.0 738.2 L 1339.4 749.8 L 1350.0 753.2" stroke-width="3.8"/>
<path d="M 1307.8 768.1 L 1332.7 759.8 L 1350.0 756.5" stroke-width="3.8"/>
<path d="M 1312.7 788.1 L 1316.1 796.4 L 1329.4 808.0 L 1350.0 813.0" stroke-width="6.0"/>
<path d="M 1339.4 703.3 L 1342.7 701.6 L 1350.0 703.3 M 1340.2 709.9 L 1341.0 749.8" stroke-width="3.8"/>
<path d="M 1050.0 824.7 L 1071.6 811.4 L 1073.3 830.0 M 1076.6 798.1 L 1076.6 830.0 M 1083.3 808.0 L 1084.9 830.0" stroke-width="3.8"/>
<path d="M 1153.1 814.7 L 1166.4 824.7 L 1156.4 830.0 M 1133.1 830.0 L 1149.8 821.4" stroke-width="3.8"/>
</g>
<clipPath id="c5"><path clip-rule="evenodd" d="M750.0 830.0H1050.0V980.0H750.0Z"/></clipPath><g clip-path="url(#c5)">
<path d="M 772.5 835.8 L 780.8 830.0 M 772.5 835.8 Q 773.3 838.3 786.6 844.1 L 799.9 848.6 L 819.8 833.3 L 819.0 830.0" stroke-width="3.8"/>
<path d="M 788.2 836.7 L 798.2 830.8 M 791.6 838.3 L 813.2 831.7 L 815.7 833.3 L 794.9 839.1 Z" stroke-width="3.8"/>
<path d="M 824.8 830.0 L 830.7 854.1 M 833.1 864.9 L 846.5 922.3" stroke-width="2.0"/>
<path d="M 780.8 946.4 L 816.5 914.8 L 819.8 914.8 L 823.2 911.5 L 836.5 903.2" stroke-width="3.8"/>
<path d="M 781.6 944.7 L 779.9 980.0" stroke-width="3.8"/>
<path d="M 794.1 938.9 L 799.9 946.4 L 821.5 954.7 L 849.8 934.8" stroke-width="3.8"/>
<path d="M 821.5 954.7 L 821.5 980.0 M 836.5 946.4 L 836.5 980.0 M 841.5 943.1 L 841.5 980.0" stroke-width="3.8"/>
<path d="M 814.0 936.4 L 831.5 926.5 L 835.6 929.8 L 816.5 940.6 Z" stroke-width="3.8"/>
<path d="M 783.3 958.0 L 819.8 980.0" stroke-width="3.8"/>
<path d="M 784.9 969.7 L 796.6 974.7 L 793.2 980.0 L 784.1 980.0 Z" fill="#000" stroke="#000" stroke-width="3.8"/>
<path d="M 847.3 894.0 L 866.4 879.1 L 869.7 878.2 L 896.3 889.0 L 899.7 893.2 L 896.3 899.8 L 873.1 916.5 L 849.8 908.2" stroke-width="3.8"/>
<path d="M 856.4 901.5 L 873.1 890.7 L 879.7 894.9 L 861.4 906.5 Z" stroke-width="3.8"/>
<path d="M 850.6 908.2 L 864.7 916.5 L 873.1 919.8 L 873.1 929.8 L 859.8 940.6 L 856.4 933.1 M 864.7 917.3 L 864.7 928.1 L 856.4 933.1" stroke-width="3.8"/>
<path d="M 843.1 916.5 L 853.1 913.1 L 856.4 923.1 L 848.1 929.8 Z" fill="#000" stroke="#000" stroke-width="3.8"/>
<path d="M 899.7 893.2 L 904.7 909.8 L 911.3 936.4 L 914.6 954.7 L 916.3 980.0" stroke-width="3.8"/>
<path d="M 903.0 903.2 L 932.9 888.2 L 966.2 871.6 L 999.4 850.0 L 1009.4 840.0 L 1022.7 830.0" stroke-width="3.8"/>
<path d="M 1024.4 830.0 L 1024.4 881.6 M 1032.7 830.0 L 1032.7 881.6 M 1036.9 830.0 L 1036.9 879.9" stroke-width="3.8"/>
<path d="M 999.4 891.5 L 1022.7 881.6 L 1050.0 871.6 M 1036.0 879.9 L 1050.0 873.2" stroke-width="3.8"/>
<path d="M 932.9 949.7 L 932.9 896.5 Q 937.9 894.9 942.9 899.8 L 944.6 913.1 Q 947.9 928.1 956.2 926.5 L 957.9 906.5 L 964.5 904.8" stroke-width="3.8"/>
<path d="M 964.5 904.8 L 967.8 898.2 L 989.5 891.5 L 1002.8 896.5 L 1024.4 906.5 L 1019.4 909.8 L 999.4 901.5 L 972.8 908.2" stroke-width="3.8"/>
<path d="M 971.2 909.8 L 982.8 914.8 L 994.5 914.8 L 1009.4 908.2" stroke-width="3.8"/>
<path d="M 952.9 909.8 L 1050.0 946.4" stroke-width="3.8"/>
<path d="M 996.1 921.5 L 1049.3 903.2 M 1021.1 931.4 L 1050.0 916.5" stroke-width="3.8"/>
<path d="M 916.3 953.1 L 932.9 948.1 L 949.6 953.1 L 966.2 944.7 L 974.5 944.7" stroke-width="3.8"/>
<path d="M 916.3 963.0 L 954.5 953.1 M 916.3 971.4 L 956.2 958.0 L 1050.0 978.0" stroke-width="3.8"/>
<path d="M 984.5 943.1 L 997.8 934.8 L 999.4 944.7 L 1006.1 949.7 L 1014.4 946.4 L 1021.1 944.7 L 1021.1 968.0 M 984.5 943.1 L 986.1 959.7 M 1009.4 949.7 L 1011.1 968.0" stroke-width="3.8"/>
<path d="M 1032.7 899.8 L 1049.3 906.5 M 1036.0 903.2 L 1044.3 919.8" stroke-width="3.8"/>
</g>
<clipPath id="c6"><path clip-rule="evenodd" d="M1050.0 830.0H1350.0V980.0H1050.0ZM1250.0 880.0V980.0H1350.0V880.0Z"/></clipPath><g clip-path="url(#c6)">
<path d="M 1069.1 830.0 L 1068.3 861.6 M 1077.4 830.0 L 1076.6 865.8 M 1085.8 830.0 L 1086.6 850.0 L 1091.6 854.9 L 1089.9 881.6" stroke-width="3.8"/>
<path d="M 1050.0 871.6 L 1068.3 861.6 L 1088.2 864.9 M 1050.0 884.9 L 1063.3 879.9 L 1076.6 874.9 L 1088.2 864.9" stroke-width="3.8"/>
<path d="M 1061.6 869.9 L 1070.0 868.2 L 1074.9 873.2 L 1074.9 876.6 L 1063.3 878.2 Z" stroke-width="3.8"/>
<path d="M 1050.0 898.2 L 1091.6 879.9 M 1050.0 916.5 L 1093.2 896.5" stroke-width="3.8"/>
<path d="M 1089.1 859.9 L 1093.2 850.0 L 1104.9 845.0 L 1118.2 836.7 L 1133.1 830.0" stroke-width="3.8"/>
<path d="M 1106.5 845.8 L 1158.1 869.9" stroke-width="3.8"/>
<path d="M 1105.7 846.6 L 1105.7 881.6" stroke-width="3.8"/>
<path d="M 1091.6 891.5 L 1104.9 882.4" stroke-width="5.0"/>
<path d="M 1093.2 893.2 L 1141.5 916.5 L 1156.4 911.5 L 1158.1 869.9" stroke-width="3.8"/>
<path d="M 1123.2 864.9 L 1125.7 896.5 M 1138.1 869.9 L 1141.5 913.1" stroke-width="5.0"/>
<path d="M 1113.2 896.5 L 1123.2 888.2 L 1128.2 903.2 L 1143.1 893.2 L 1153.1 868.2" stroke-width="3.8"/>
<path d="M 1131.5 843.3 L 1161.4 830.0 M 1144.8 859.9 L 1159.8 850.0 L 1164.7 841.6 L 1191.4 830.0" stroke-width="3.8"/>
<path d="M 1158.1 869.9 L 1179.7 878.2 L 1232.9 898.2 L 1291.1 923.1 L 1319.4 933.1" stroke-width="3.8"/>
<path d="M 1158.1 911.5 L 1209.6 933.1 L 1216.3 939.8 L 1216.3 934.8 L 1232.9 943.1 L 1237.9 953.1 L 1241.2 948.1 L 1279.5 961.4" stroke-width="3.8"/>
<path d="M 1178.0 864.9 L 1188.0 854.9 L 1201.3 860.8 L 1208.0 889.0 M 1183.0 879.9 L 1184.7 894.9 L 1199.7 899.0 M 1194.7 861.6 L 1193.0 869.9 L 1181.4 868.2" stroke-width="3.8"/>
<path d="M 1203.0 891.5 L 1227.9 901.5 L 1227.9 911.5 L 1203.0 899.8 Z" stroke-width="3.8"/>
<path d="M 1289.5 911.5 L 1299.4 902.3 L 1312.7 907.3 L 1317.7 929.8 M 1294.5 928.1 L 1282.8 951.4 L 1282.8 976.3 L 1316.1 963.0 M 1299.4 926.5 L 1299.4 976.3" stroke-width="3.8"/>
<path d="M 1050.0 943.1 L 1136.5 980.0 M 1050.0 976.3 L 1058.3 980.0" stroke-width="3.8"/>
</g>
</g>
<g id="21_p3B">
<clipPath id="c7"><path clip-rule="evenodd" d="M1350.0 680.0H1850.0V980.0H1350.0ZM1350.0 880.0V980.0H1550.0V880.0ZM1350.0 700.0V825.0H1550.0V700.0Z"/></clipPath><g clip-path="url(#c7)">
<path d="M 1250.0 723.2 L 1286.6 719.2 L 1308.2 723.2 L 1349.8 739.2 L 1393.0 751.5 L 1429.6 767.1 L 1442.9 769.8 L 1466.2 779.8 L 1496.1 794.7 L 1506.1 799.7" stroke-width="3.8"/>
<path d="M 1338.1 709.9 L 1346.5 703.3 L 1358.1 705.9 L 1362.4 746.5 L 1359.8 751.5 M 1346.5 704.9 L 1349.8 723.2 M 1349.8 723.2 L 1358.1 724.9" stroke-width="3.8"/>
<path d="M 1444.6 751.5 L 1452.9 745.9 L 1462.9 749.8 L 1465.5 789.8 L 1449.6 793.1 L 1444.6 756.5 Z" stroke-width="3.8"/>
<path d="M 1446.2 761.5 L 1462.9 759.8 M 1429.6 786.4 L 1449.6 793.1" stroke-width="3.8"/>
<path d="M 1313.2 789.8 L 1359.8 811.4 L 1396.3 789.8 L 1429.6 776.5 L 1449.6 789.8" stroke-width="3.8"/>
<path d="M 1363.1 805.7 L 1502.8 827.0" stroke-width="3.8"/>
<path d="M 1367.1 823.0 L 1484.5 833.7 L 1502.8 826.3" stroke-width="3.8"/>
<path d="M 1363.1 805.7 Q 1359.8 819.7 1367.1 823.0" stroke-width="3.8"/>
<path d="M 1389.7 800.4 L 1416.3 793.7 L 1419.6 798.1 L 1394.7 806.4 Z" stroke-width="3.8"/>
<path d="M 1431.3 784.8 L 1449.6 789.8 L 1439.6 794.7 L 1429.6 790.4 Z" stroke-width="3.8"/>
<path d="M 1359.8 753.2 L 1393.0 751.5 L 1393.0 766.5 L 1429.6 767.1" stroke-width="3.8"/>
<path d="M 1349.8 779.8 L 1366.4 773.1 L 1393.0 783.1 L 1422.9 773.1" stroke-width="3.8"/>
<path d="M 1477.8 776.5 L 1490.1 770.5 L 1520.1 783.1 L 1536.7 796.4 L 1542.0 810.4 L 1536.7 819.7 L 1506.1 801.4" stroke-width="3.8"/>
<path d="M 1482.8 779.8 L 1486.8 774.8 M 1491.1 779.8 L 1494.5 774.8 M 1499.4 783.1 L 1502.8 778.1 M 1507.8 787.1 L 1511.1 781.4 M 1516.1 791.4 L 1519.4 786.4 M 1524.4 796.4 L 1529.4 791.4 M 1531.0 803.1 L 1536.0 799.7 M 1534.4 811.4 L 1539.4 808.0" stroke-width="3.8"/>
<path d="M 1484.5 816.4 L 1496.1 811.4 L 1502.8 814.7 L 1494.5 819.7 Z" fill="#000" stroke="#000" stroke-width="3.8"/>
<path d="M 1506.1 801.4 L 1506.1 867.9 M 1524.4 814.7 L 1526.1 839.6 L 1506.1 866.3" stroke-width="3.8"/>
<path d="M 1534.4 822.4 Q 1544.3 826.3 1543.3 846.3 L 1531.0 866.9 L 1502.8 896.2 L 1449.6 939.4 L 1393.0 980.0" stroke-width="3.8"/>
<path d="M 1526.7 835.7 L 1524.4 856.3 L 1506.1 876.2 L 1462.9 912.8 L 1389.7 972.7" stroke-width="3.8"/>
<path d="M 1502.8 827.0 L 1482.8 840.3 L 1436.3 883.5 L 1422.9 881.2 L 1407.0 899.5 L 1409.6 909.5 L 1419.6 914.5 L 1439.6 896.2" stroke-width="3.8"/>
<path d="M 1469.5 874.6 L 1471.2 903.5 M 1481.2 862.9 L 1482.8 893.5 M 1492.8 852.9 L 1494.5 880.2" stroke-width="3.8"/>
<path d="M 1338.1 896.2 Q 1346.5 889.5 1358.1 896.2 L 1360.4 933.4 M 1338.1 896.2 L 1339.1 932.8" stroke-width="3.8"/>
<path d="M 1369.7 926.1 L 1381.4 926.1 L 1383.7 970.0" stroke-width="3.8"/>
<path d="M 1383.0 930.1 L 1403.0 927.8 L 1404.7 946.7 L 1393.0 956.7 L 1396.3 966.7" stroke-width="3.8"/>
<path d="M 1406.3 912.8 L 1403.0 932.8 L 1389.7 936.1" stroke-width="3.8"/>
</g>
</g>
<g id="22_p3C">
<path d="M 754.0 1109.0 L 898.7 1163.1" stroke-width="2.0"/>
<path d="M 884.5 1080.8 L 887.0 1089.9 M 888.7 1096.6 L 903.7 1153.1" stroke-width="2.0"/>
<path d="M 899.2 1163.1 L 903.7 1153.9 L 913.6 1162.3 L 923.1 1207.2 L 912.8 1212.1 L 908.2 1210.0 Z" fill="#000" stroke="#000" stroke-width="3.8"/>
<path d="M 903.3 1213.8 Q 903.3 1203.8 917.8 1203.3 Q 931.6 1203.8 931.6 1213.8 Q 930.3 1223.8 916.1 1224.3 Q 903.3 1223.8 903.3 1213.8 Z" stroke-width="3.8"/>
<path d="M 909.5 1213.0 Q 909.5 1208.0 914.5 1207.6 Q 922.8 1208.0 922.8 1212.1 Q 921.1 1216.3 915.3 1216.6 Q 910.3 1216.3 909.5 1213.0 Z" fill="#000" stroke="#000" stroke-width="3.8"/>
<clipPath id="c8"><path clip-rule="evenodd" d="M700.0 980.0H1350.0V1280.0H700.0ZM1250.0 980.0V1080.0H1350.0V980.0ZM900.0 980.0V1110.0H1200.0V980.0Z"/></clipPath><g clip-path="url(#c8)">
<path d="M 774.9 995.0 Q 763.3 1003.3 764.0 1013.3 Q 766.6 1021.6 793.2 1034.9 L 883.0 1076.5 L 1032.7 1131.3 L 1082.6 1149.6 L 1105.9 1156.3 L 1142.5 1150.3 L 1209.0 1116.4 L 1282.2 1073.1 L 1350.0 1033.9" stroke-width="3.8"/>
<path d="M 778.3 1019.9 L 876.4 1065.8 L 1049.3 1129.0 L 1092.6 1143.0 L 1135.8 1143.6 L 1195.7 1117.0 L 1282.2 1067.1 L 1350.0 1026.6" stroke-width="3.8"/>
<path d="M 814.9 986.7 L 869.7 1008.3 L 1016.1 1067.1 L 1082.6 1090.4 L 1115.9 1089.8 L 1139.1 1081.4 L 1182.4 1056.5 L 1268.8 1006.6 L 1312.1 981.7" stroke-width="3.8"/>
<path d="M 821.5 1004.9 L 823.2 1029.9 M 834.8 1009.9 L 836.5 1039.9 M 846.5 1014.9 L 848.1 1044.9 M 1012.7 1086.4 L 1014.4 1116.4 M 1026.1 1091.4 L 1027.7 1121.4 M 1039.4 1096.4 L 1040.0 1126.3 M 1199.0 1079.8 L 1200.7 1108.0 M 1210.6 1076.5 L 1212.3 1103.1 M 1223.9 1071.5 L 1225.6 1099.7" stroke-width="3.8"/>
<path d="M 1046.0 1083.1 L 1082.6 1091.4 L 1087.6 1143.0 L 1049.3 1136.3 Z" stroke-width="3.8"/>
<path d="M 1049.3 1116.4 L 1056.0 1094.7 L 1061.0 1119.7 L 1069.3 1098.1 L 1072.6 1123.0 L 1082.6 1099.7 M 1052.7 1126.3 L 1082.6 1136.3" stroke-width="3.8"/>
<path d="M 1072.6 1129.7 L 1082.6 1131.3 L 1084.3 1143.0 L 1074.3 1141.3 Z" fill="#000" stroke="#000" stroke-width="3.8"/>
<path d="M 1145.8 1076.5 L 1185.7 1059.8 L 1190.7 1123.0 L 1149.1 1139.6 Z" stroke-width="3.8"/>
<path d="M 1149.1 1099.7 L 1159.1 1079.8 L 1169.1 1113.0 L 1179.0 1073.1 L 1185.7 1106.4 M 1152.4 1126.3 L 1189.0 1113.0" stroke-width="3.8"/>
<path d="M 779.9 980.0 L 816.5 980.0 L 813.2 1029.9 L 783.3 1019.9 Z" stroke-width="3.8"/>
<path d="M 786.6 1000.0 L 793.2 983.3 L 799.9 1009.9 L 806.5 986.7 L 811.5 1013.3" stroke-width="3.8"/>
<path d="M 799.9 1016.6 L 811.5 1019.9 L 811.5 1029.9 L 799.9 1026.6 Z" fill="#000" stroke="#000" stroke-width="3.8"/>
<path d="M 869.7 980.0 L 869.7 1003.3" stroke-width="3.8"/>
<path d="M 889.7 1011.6 L 919.6 1000.6 L 936.3 994.0 L 962.9 993.3" stroke-width="3.8"/>
<path d="M 982.8 980.0 L 1125.8 1036.5 M 1002.8 980.0 L 1115.9 1017.3 M 1135.8 980.0 L 1255.5 1033.2 M 1255.5 1033.2 L 1285.5 1006.6" stroke-width="3.8"/>
<path d="M 1082.6 1063.1 Q 1066.0 1058.2 1064.3 1051.5 L 1119.2 1019.9 Q 1135.8 1000.0 1152.4 999.3 L 1179.0 1016.6 L 1195.7 1024.9 L 1199.0 1029.9 L 1175.7 1057.2 Q 1149.1 1068.1 1119.2 1067.1 Z" stroke-width="3.8"/>
<path d="M 1135.8 1019.9 L 1154.1 1012.6 L 1155.8 1016.6 L 1137.5 1023.2 Z" stroke-width="3.8"/>
<path d="M 1092.6 1054.8 L 1109.2 1046.5 L 1110.9 1050.5 L 1094.2 1058.2 Z" stroke-width="3.8"/>
<path d="M 1112.5 1029.9 L 1142.5 1038.2 L 1159.1 1049.8 L 1142.5 1059.8 L 1125.8 1048.2 L 1115.9 1036.5" stroke-width="3.8"/>
<path d="M 1002.8 1009.9 Q 1006.1 1003.3 1019.4 1005.9 L 1036.0 1010.6 Q 1039.4 1018.2 1029.4 1021.6 L 1011.1 1019.2 Q 1002.8 1016.6 1002.8 1009.9 Z" stroke-width="3.8"/>
<path d="M 1029.4 1019.9 Q 1032.7 1013.3 1042.7 1014.9 L 1059.3 1019.9 Q 1064.3 1026.6 1054.3 1029.9 L 1036.0 1028.2 Q 1029.4 1025.9 1029.4 1019.9 Z" stroke-width="3.8"/>
<path d="M 1056.0 1029.9 Q 1059.3 1024.9 1069.3 1026.6 L 1085.9 1031.6 Q 1089.2 1038.2 1080.9 1041.5 L 1064.3 1039.9 Q 1056.0 1036.5 1056.0 1029.9 Z" stroke-width="3.8"/>
<path d="M 989.5 1003.3 A 5.0 4.0 0 1 1 999.4 1003.3 A 5.0 4.0 0 1 1 989.5 1003.3 Z" stroke-width="3.8"/>
<path d="M 922.9 1003.3 L 936.3 1029.9 L 956.2 1029.9 L 982.8 1036.5 L 1016.1 1029.9 L 1032.7 1059.8 L 1056.0 1056.5" stroke-width="3.8"/>
<path d="M 919.6 1000.0 L 919.6 1026.6 M 936.3 993.3 L 936.3 1029.9 M 949.6 986.7 L 962.9 998.3 L 956.2 1006.6 M 966.2 1009.9 L 982.8 1016.6 L 1002.8 1039.9 M 1009.4 1029.9 L 1022.7 1053.2 M 976.2 1023.2 L 992.8 1033.2" stroke-width="3.8"/>
<path d="M 1248.9 1023.2 L 1258.9 1019.9 L 1262.2 1029.9 M 1278.8 1003.3 L 1288.8 1001.6 M 1335.4 980.0 L 1342.0 1019.9 L 1350.0 1023.2" stroke-width="3.8"/>
<path d="M 1192.4 1023.2 L 1195.7 1018.2 M 1195.7 1019.9 L 1202.3 1026.6" stroke-width="3.8"/>
</g>
<path d="M 905.3 1169.7 L 912.0 1168.1 M 906.5 1175.6 L 913.1 1173.9 M 907.8 1181.4 L 914.5 1179.7 M 909.2 1187.2 L 915.8 1185.5 M 910.5 1193.0 L 917.1 1191.4 M 911.8 1198.8 L 918.5 1197.2 M 912.8 1204.7 L 919.5 1203.0" stroke="#fff" stroke-width="2.5"/>
</g>
<g id="23_p3Z7">
<clipPath id="c9"><path clip-rule="evenodd" d="M1250.0 880.0H1550.0V1080.0H1250.0Z"/></clipPath><g clip-path="url(#c9)">
<path d="M 1284.9 1080.1 L 1349.8 1038.0 L 1416.3 986.4 L 1466.2 939.9 L 1519.4 880.0" stroke-width="3.8"/>
<path d="M 1260.0 1080.1 L 1338.1 1024.7 L 1383.0 988.1 L 1416.3 959.8 L 1469.5 906.6 L 1499.4 880.0" stroke-width="3.8"/>
<path d="M 1250.0 904.9 L 1291.6 924.9 M 1250.0 949.8 L 1279.9 963.1" stroke-width="3.8"/>
<path d="M 1279.9 951.5 L 1279.9 975.6 L 1311.5 989.8 L 1323.2 986.4 L 1329.8 979.8 L 1333.1 968.1" stroke-width="3.8"/>
<path d="M 1279.9 951.5 L 1294.9 927.4 M 1289.9 912.4 L 1298.2 902.5 L 1312.4 907.4 L 1307.4 918.2 L 1294.9 918.2 L 1289.9 912.4" stroke-width="3.8"/>
<path d="M 1313.2 908.3 L 1319.8 938.2 L 1319.8 921.6 L 1326.5 916.6 L 1334.8 921.6" stroke-width="3.8"/>
<path d="M 1294.9 928.2 L 1298.2 963.1" stroke-width="3.8"/>
<path d="M 1306.5 941.5 L 1310.7 941.5 L 1311.2 963.1 L 1307.4 963.1 Z" fill="#000" stroke="#000" stroke-width="3.8"/>
<path d="M 1321.5 948.2 L 1326.5 948.2 L 1326.8 963.1 L 1322.8 963.1 Z" fill="#000" stroke="#000" stroke-width="3.8"/>
<path d="M 1288.2 971.5 L 1294.9 966.5 L 1298.2 971.5 M 1299.9 976.5 L 1306.5 973.1 L 1311.5 978.1 M 1314.9 983.1 L 1323.2 978.1 L 1326.5 981.4" stroke-width="3.8"/>
<path d="M 1336.5 936.5 L 1338.1 896.6 Q 1344.8 890.0 1353.1 893.3 Q 1359.8 898.3 1360.6 906.6 L 1361.4 931.6" stroke-width="3.8"/>
<path d="M 1338.1 966.5 L 1339.8 1024.7 L 1349.8 1024.7 L 1383.0 993.1 L 1383.0 926.6 L 1369.7 928.2 L 1366.4 933.2" stroke-width="3.8"/>
<path d="M 1343.1 969.8 L 1351.4 996.4 M 1359.8 956.5 L 1366.4 988.1 M 1369.7 943.2 L 1376.4 983.1" stroke-width="3.8"/>
<path d="M 1333.1 963.1 L 1369.7 938.2" stroke-width="5.0"/>
<path d="M 1339.8 1006.4 L 1349.8 1006.4 L 1349.8 1021.4" stroke-width="3.8"/>
<path d="M 1338.1 933.2 L 1349.8 929.9 L 1351.4 946.5 L 1341.5 944.9 Z" fill="#000" stroke="#000" stroke-width="3.8"/>
<path d="M 1383.0 933.2 L 1391.4 934.9 L 1403.0 928.2 L 1404.7 916.6 L 1411.3 909.9 L 1422.9 881.7" stroke-width="3.8"/>
<path d="M 1384.7 959.8 L 1386.4 966.5 L 1394.7 968.1 L 1406.3 956.5 L 1406.3 928.2" stroke-width="3.8"/>
<path d="M 1394.7 953.2 L 1403.0 946.5" stroke-width="3.8"/>
<path d="M 1406.3 904.9 L 1422.9 883.3 L 1439.6 895.0 L 1418.0 914.9 L 1414.6 904.9" stroke-width="3.8"/>
<path d="M 1469.5 880.0 L 1471.2 906.6 M 1482.8 880.0 L 1481.2 896.6 M 1496.1 880.0 L 1494.5 886.7" stroke-width="3.8"/>
<path d="M 1250.0 1024.7 L 1256.7 1023.0 L 1271.6 1011.4 L 1279.9 1004.7 L 1294.9 1001.4" stroke-width="3.8"/>
<path d="M 1250.0 1033.0 L 1260.0 1029.7 L 1274.9 1016.4" stroke-width="3.8"/>
</g>
</g>
<g id="24_p3Z13">
<clipPath id="c10"><path clip-rule="evenodd" d="M900.0 980.0H1200.0V1110.0H900.0Z"/></clipPath><g clip-path="url(#c10)">
<path d="M 954.9 962.5 L 1014.7 984.9 L 1114.5 1021.5" stroke-width="3.8"/>
<path d="M 973.2 960.0 L 1116.2 1014.9 M 1016.4 970.0 L 1127.8 1008.2 M 1081.3 960.0 L 1200.0 1008.2" stroke-width="3.8"/>
<path d="M 900.0 986.6 L 951.6 966.7 M 910.0 989.9 L 933.3 978.3 L 954.9 993.3 L 963.2 998.2" stroke-width="3.8"/>
<path d="M 920.0 1001.6 L 923.3 1001.6 L 938.2 1031.5 M 921.6 1026.5 L 921.6 1003.2" stroke-width="3.8"/>
<path d="M 929.9 986.6 L 941.6 988.3 L 949.9 1001.6 L 938.2 999.9 Z" fill="#000" stroke="#000" stroke-width="3.8"/>
<path d="M 949.9 976.6 L 958.2 981.6 L 961.5 1001.6" stroke-width="3.8"/>
<path d="M 929.9 1001.6 L 963.2 1001.6 L 983.1 1036.5 L 993.1 1036.5 L 1016.4 1046.5" stroke-width="3.8"/>
<path d="M 984.5 1002.4 A 10.3 5.0 0 1 1 1005.1 1002.4 A 10.3 5.0 0 1 1 984.5 1002.4 Z" stroke-width="3.8"/>
<path d="M 999.8 1014.9 L 1019.7 1004.9 L 1036.4 1009.9 L 1041.4 1014.9 L 1031.4 1021.5 L 1011.4 1023.2 L 999.8 1018.2 Z" stroke-width="3.8"/>
<path d="M 1008.1 1018.2 L 1019.7 1011.6 L 1031.4 1014.9 L 1019.7 1019.9 Z" stroke-width="3.8"/>
<path d="M 1028.0 1026.5 L 1046.3 1016.5 L 1059.6 1018.2 L 1069.6 1024.9 L 1059.6 1031.5 L 1039.7 1033.2 L 1028.0 1028.2 Z" stroke-width="3.8"/>
<path d="M 1036.4 1029.8 L 1046.3 1023.2 L 1058.0 1024.9 L 1046.3 1029.8 Z" stroke-width="3.8"/>
<path d="M 1054.7 1036.5 L 1074.6 1028.2 L 1084.6 1028.2 L 1092.9 1034.8 L 1082.9 1041.5 L 1064.6 1043.1 L 1054.7 1038.2 Z" stroke-width="3.8"/>
<path d="M 1063.0 1038.2 L 1074.6 1033.2 L 1084.6 1034.8 L 1072.9 1039.8 Z" stroke-width="3.8"/>
<path d="M 1121.2 1019.9 L 1136.1 1001.6 L 1149.4 998.2 L 1176.1 1008.2 L 1181.0 1014.9 L 1192.7 1029.8 L 1149.4 1076.4 L 1107.9 1088.0 L 1066.3 1079.7 L 1049.7 1074.7" stroke-width="3.8"/>
<path d="M 1063.0 1059.8 Q 1082.9 1069.8 1107.9 1068.1 Q 1124.5 1063.1 1132.8 1053.1 M 1149.4 1033.2 L 1179.4 1011.6" stroke-width="3.8"/>
<path d="M 1132.8 1019.9 L 1151.1 1009.9 L 1156.1 1013.2 L 1136.1 1023.2 Z" stroke-width="3.8"/>
<path d="M 1091.2 1054.8 L 1106.2 1044.8 L 1111.2 1048.1 L 1094.6 1058.1 Z" stroke-width="3.8"/>
<path d="M 1112.9 1023.2 L 1129.5 1029.8 L 1139.5 1036.5 L 1157.8 1048.1 L 1149.4 1061.4 L 1134.5 1049.8 L 1114.5 1039.8 M 1139.5 1036.5 L 1136.1 1049.8" stroke-width="3.8"/>
<path d="M 1044.7 1076.4 L 1069.6 1053.1 L 1082.9 1044.8 L 1099.6 1038.2" stroke-width="3.8"/>
<path d="M 900.0 1018.2 L 1043.0 1076.4 M 900.0 1071.4 L 999.8 1110.0 M 900.0 1083.1 L 966.5 1110.0" stroke-width="3.8"/>
<path d="M 1023.1 1066.4 L 1056.3 1056.5 L 1081.3 1046.5" stroke-width="3.8"/>
<path d="M 958.2 1006.6 L 969.8 1009.9 L 981.5 1036.5 M 1003.1 1029.8 L 1016.4 1029.8 L 1026.4 1039.8 L 1033.0 1059.8 M 979.8 1018.2 L 989.8 1023.2 L 999.8 1036.5" stroke-width="3.8"/>
<path d="M 1009.8 1033.2 L 1019.7 1033.2 L 1029.7 1059.8 L 1021.4 1059.8 Z" fill="#000" stroke="#000" stroke-width="3.8"/>
<path d="M 1014.7 1086.4 L 1016.4 1110.0 M 1028.0 1091.4 L 1028.9 1110.0 M 1041.4 1096.4 L 1042.2 1110.0" stroke-width="3.8"/>
<path d="M 1046.3 1081.4 L 1087.9 1091.4 L 1087.9 1110.0 M 1049.7 1083.1 L 1048.0 1110.0" stroke-width="3.8"/>
<path d="M 1059.6 1089.7 L 1066.3 1110.0 L 1072.9 1093.0 L 1079.6 1110.0" stroke-width="3.8"/>
<path d="M 1044.7 1078.1 L 1074.6 1086.4 L 1099.6 1091.4 L 1116.2 1089.7 L 1136.1 1079.7 L 1172.7 1056.5 L 1200.0 1043.1" stroke-width="3.8"/>
<path d="M 1142.8 1076.4 L 1186.0 1059.8 L 1189.4 1110.0 M 1144.5 1079.7 L 1146.1 1110.0 M 1149.4 1083.1 L 1159.4 1106.3 L 1169.4 1079.7 L 1182.7 1106.3" stroke-width="3.8"/>
<path d="M 1199.3 1059.8 L 1174.4 1073.1" stroke-width="3.8"/>
</g>
</g>
<g id="25_p3Z14">
<clipPath id="c11"><path clip-rule="evenodd" d="M1300.0 700.0H1550.0V825.0H1300.0Z"/></clipPath><g clip-path="url(#c11)">
<path d="M 1337.4 722.2 L 1341.6 704.2 L 1347.1 702.1 L 1359.6 706.2 L 1361.7 734.6 L 1359.6 744.3 L 1355.4 747.1 L 1338.8 749.9 L 1337.4 741.6 Z" stroke-width="3.8"/>
<path d="M 1341.6 705.5 L 1352.7 707.6 L 1354.0 719.4 L 1340.2 716.6 M 1338.8 720.8 L 1355.4 726.3 M 1355.4 708.3 L 1355.4 745.7" stroke-width="3.8"/>
<path d="M 1318.0 700.0 L 1318.7 723.6 L 1329.1 722.2 L 1336.0 713.9 L 1333.3 705.5 L 1322.2 702.8" stroke-width="3.8"/>
<path d="M 1300.0 723.6 L 1337.4 736.0 M 1361.0 734.6 L 1440.0 766.5 L 1444.1 767.9 M 1463.5 781.8 L 1478.8 788.7" stroke-width="3.8"/>
<path d="M 1300.0 736.0 L 1315.2 731.9 L 1334.6 738.8 L 1320.8 745.7 L 1337.4 752.7 L 1362.4 748.5 L 1376.2 754.0 L 1388.7 758.2" stroke-width="3.8"/>
<path d="M 1300.0 763.7 L 1315.2 783.1 M 1300.0 770.7 L 1312.5 783.1" stroke-width="3.8"/>
<path d="M 1308.3 767.9 L 1333.3 758.2 L 1341.6 761.0 L 1340.2 790.1 L 1355.4 795.6 L 1383.1 784.5 L 1369.3 777.6 L 1358.2 773.4 L 1374.8 767.9 L 1391.5 761.0 L 1391.5 752.7" stroke-width="3.8"/>
<path d="M 1359.6 773.4 L 1385.9 763.7 M 1347.1 765.1 L 1349.9 797.0 M 1327.7 759.6 L 1329.1 787.3" stroke-width="3.8"/>
<path d="M 1313.9 772.1 L 1326.3 767.9 M 1318.0 777.6 L 1326.3 774.8" stroke-width="3.8"/>
<path d="M 1311.1 788.7 L 1320.8 790.1 L 1330.5 802.5 L 1352.7 810.9 L 1358.2 809.5 M 1315.2 795.6 L 1355.4 809.5 M 1349.9 795.6 L 1363.7 798.4" stroke-width="3.8"/>
<path d="M 1391.5 752.7 L 1427.5 766.5 L 1427.5 774.8 L 1415.0 777.6 L 1394.2 772.1 L 1383.1 776.2 L 1397.0 781.8 L 1419.2 774.8" stroke-width="3.8"/>
<path d="M 1377.6 780.4 L 1397.0 774.8 L 1405.3 777.6 L 1385.9 784.5 Z" stroke-width="3.8"/>
<path d="M 1441.4 762.4 L 1446.9 747.1 L 1452.4 745.0 L 1463.5 749.9 L 1465.6 766.5 L 1463.5 788.7 L 1446.9 790.1 L 1444.1 783.1 Z" stroke-width="3.8"/>
<path d="M 1445.5 749.9 L 1456.6 752.7 L 1458.0 761.0 L 1444.1 758.2 M 1444.1 762.4 L 1460.8 767.9 M 1459.4 752.7 L 1460.8 788.7" stroke-width="3.8"/>
<path d="M 1361.0 805.3 L 1440.0 779.0 L 1424.7 790.1 L 1440.0 797.0 L 1463.5 791.5 M 1363.7 805.3 L 1438.6 780.4" stroke-width="3.8"/>
<path d="M 1390.1 802.5 L 1413.6 792.8 L 1423.3 797.0 L 1398.4 805.3 Z" stroke-width="3.8"/>
<path d="M 1361.0 806.7 L 1366.5 810.9 L 1482.9 824.7 M 1369.3 809.5 L 1477.4 823.3 M 1362.4 815.0 L 1365.1 822.0" stroke-width="3.8"/>
<path d="M 1477.4 784.5 L 1489.9 770.7 L 1523.1 785.9 L 1538.4 799.8 L 1541.1 810.9 L 1535.6 815.0 L 1519.0 809.5 L 1496.8 797.0 L 1478.8 788.7 Z" fill="#000" stroke="#000" stroke-width="3.8"/>
<path d="M 1488.5 780.4 L 1492.6 776.2 M 1496.8 784.5 L 1499.6 780.4 M 1505.1 788.7 L 1507.9 784.5 M 1514.8 792.8 L 1517.6 788.7 M 1521.7 797.0 L 1524.5 792.8 M 1528.7 801.2 L 1532.8 798.4 M 1534.2 808.1 L 1538.4 805.3" stroke="#fff" stroke-width="2.5"/>
<path d="M 1463.5 791.5 L 1516.2 810.9" stroke-width="3.8"/>
<path d="M 1482.9 815.0 L 1494.0 808.1 L 1510.6 813.6 L 1499.6 820.6 Z" fill="#000" stroke="#000" stroke-width="3.8"/>
<path d="M 1524.5 817.8 L 1535.6 808.1 M 1527.3 825.0 L 1541.1 813.6" stroke-width="3.8"/>
</g>
</g>
<g id="p6">
<clipPath id="c12"><path clip-rule="evenodd" d="M1150.0 1130.0H1700.0V1405.0H1150.0ZM1150.0 1290.0V1405.0H1290.0V1290.0Z"/></clipPath><g clip-path="url(#c12)">
<path d="M 1150.0 1288.5 L 1241.5 1230.6 L 1336.0 1172.7 Q 1360.4 1156.8 1390.9 1149.8 L 1418.3 1152.0 L 1454.9 1163.5 L 1546.3 1197.1 L 1607.3 1227.6 Q 1640.9 1243.4 1650.0 1261.1 Q 1654.6 1282.4 1643.9 1300.7 L 1607.3 1331.2 L 1567.7 1361.7 L 1525.0 1392.2 L 1506.7 1405.0" stroke-width="3.8"/>
<path d="M 1150.0 1299.2 L 1284.1 1218.4 L 1332.9 1189.5 Q 1360.4 1168.1 1390.9 1162.9 L 1418.3 1165.1 L 1485.4 1184.9 L 1576.8 1218.4 L 1625.6 1242.8 Q 1643.9 1258.0 1645.4 1276.3 Q 1642.4 1293.1 1636.3 1299.2 L 1592.1 1332.7 L 1537.2 1373.9 L 1497.6 1405.0" stroke-width="3.8"/>
<path d="M 1636.3 1306.8 L 1592.1 1340.4 L 1546.3 1373.9 L 1515.9 1398.3" stroke-width="3.8"/>
<path d="M 1150.0 1340.4 L 1189.6 1331.2 L 1198.8 1337.3 L 1272.0 1367.8 L 1363.4 1398.3 L 1381.7 1405.0" stroke-width="3.8"/>
<path d="M 1189.6 1322.1 L 1278.0 1357.1 L 1393.9 1398.3 L 1412.2 1405.0" stroke-width="3.8"/>
<path d="M 1265.9 1296.2 L 1339.0 1243.4 Q 1346.6 1238.2 1357.3 1242.8 L 1546.3 1328.2 Q 1561.0 1335.8 1555.5 1347.1 L 1479.3 1395.2 Q 1467.1 1400.7 1451.8 1394.0 L 1268.9 1313.5 Q 1257.3 1306.8 1265.9 1296.2" stroke-width="3.8"/>
<path d="M 1273.5 1300.1 L 1342.7 1250.4 Q 1348.8 1247.4 1357.3 1250.4 L 1542.7 1331.8 Q 1550.0 1337.9 1543.9 1344.0 L 1476.2 1389.1 Q 1467.1 1392.8 1454.9 1387.9 L 1275.6 1309.9 Q 1268.9 1305.6 1273.5 1300.1" stroke-width="3.8"/>
<path d="M 1255.2 1305.3 L 1255.2 1312.9 L 1268.9 1325.1 L 1448.8 1402.9" stroke-width="3.8"/>
<path d="M 1329.9 1235.2 L 1339.0 1230.6 M 1332.9 1244.3 L 1325.3 1239.8" stroke-width="3.8"/>
<path d="M 1275.0 1312.9 L 1281.1 1311.4 L 1284.1 1331.2 L 1276.5 1331.2 Z" stroke-width="3.8"/>
<path d="M 1351.2 1344.9 L 1363.4 1347.1 L 1363.4 1366.3 L 1352.7 1364.8 Z" stroke-width="3.8"/>
<path d="M 1430.5 1378.5 L 1442.7 1380.6 L 1443.3 1397.7 L 1432.0 1395.9 Z" stroke-width="3.8"/>
<path d="M 1421.3 1261.1 L 1432.0 1264.1 L 1433.5 1280.9 L 1422.9 1277.9 Z" stroke-width="3.8"/>
<path d="M 1479.3 1286.1 L 1488.4 1288.5 L 1489.0 1302.3 L 1480.8 1300.1 Z" stroke-width="3.8"/>
<path d="M 1296.3 1319.0 L 1351.2 1343.4 M 1369.5 1352.6 L 1430.5 1378.5" stroke-width="3.8"/>
<path d="M 1372.6 1192.5 L 1419.8 1201.6 L 1422.0 1247.4 L 1369.5 1243.4 Z" stroke-width="3.8"/>
<path d="M 1381.1 1219.9 A 12.8 12.8 0 1 1 1406.7 1219.9 A 12.8 12.8 0 1 1 1381.1 1219.9 Z" stroke-width="3.8"/>
<path d="M 1386.3 1219.9 A 7.6 7.6 0 1 1 1401.5 1219.9 A 7.6 7.6 0 1 1 1386.3 1219.9 Z" fill="#000" stroke="#000" stroke-width="3.8"/>
<path d="M 1377.1 1221.5 L 1381.7 1245.9 M 1409.1 1221.5 L 1407.6 1252.0" stroke-width="3.8"/>
<path d="M 1337.5 1186.4 Q 1345.1 1212.3 1369.5 1230.6 M 1454.9 1181.8 Q 1453.4 1206.2 1421.3 1236.7" stroke-width="3.8"/>
<path d="M 1339.0 1181.8 Q 1390.9 1191.0 1454.9 1178.8 M 1348.2 1169.6 Q 1390.9 1186.4 1442.7 1175.7" stroke-width="3.8"/>
<path d="M 1340.5 1197.1 Q 1363.4 1204.7 1381.7 1206.2 M 1418.3 1204.7 Q 1436.6 1203.2 1447.3 1198.6" stroke-width="3.8"/>
<path d="M 1384.8 1152.9 L 1406.1 1155.9 L 1404.6 1184.9 L 1386.3 1183.4 Z M 1393.9 1154.4 L 1392.4 1183.4" stroke-width="3.8"/>
<path d="M 1467.1 1212.3 L 1477.7 1209.9 L 1479.9 1238.2 L 1470.1 1236.7 Z" stroke-width="3.8"/>
<path d="M 1491.5 1207.7 Q 1499.1 1203.2 1506.7 1206.2 L 1512.8 1248.9 L 1491.5 1243.4 Z M 1489.9 1216.0 L 1508.2 1219.0" stroke-width="3.8"/>
<path d="M 1520.4 1243.4 Q 1531.1 1236.7 1544.8 1238.8 L 1540.2 1258.0 L 1523.5 1261.7 Z M 1531.1 1241.3 L 1529.6 1259.6" stroke-width="3.8"/>
<path d="M 1576.8 1252.0 Q 1586.0 1239.8 1595.1 1238.2 L 1625.6 1258.0 Q 1642.4 1273.3 1640.9 1282.4 L 1631.7 1298.3 L 1607.3 1289.1 L 1582.9 1268.7 Z" stroke-width="3.8"/>
<path d="M 1590.5 1240.4 L 1613.4 1252.0 L 1608.8 1273.9 L 1593.6 1267.8 Z M 1601.2 1245.9 L 1599.7 1270.2" stroke-width="3.8"/>
<path d="M 1537.2 1279.4 L 1557.0 1276.3 L 1573.8 1279.4 L 1567.7 1319.6 L 1540.2 1316.6 Z M 1546.3 1279.4 L 1549.4 1316.0 M 1555.5 1276.3 L 1558.5 1317.5" stroke-width="3.8"/>
<path d="M 1549.4 1258.0 L 1572.3 1277.0" stroke-width="3.8"/>
<path d="M 1263.4 1265.7 L 1281.1 1249.5 L 1284.8 1289.1 L 1266.5 1286.1 Z M 1272.0 1258.0 L 1275.0 1287.0" stroke-width="3.8"/>
<path d="M 1323.8 1362.3 L 1342.1 1365.4 L 1339.6 1383.7 L 1327.4 1383.7 Z" stroke-width="3.8"/>
<path d="M 1492.1 1350.1 L 1504.3 1344.9 L 1513.4 1368.4 L 1495.1 1374.5 Z" stroke-width="3.8"/>
<path d="M 1207.9 1311.4 L 1241.5 1328.2 L 1238.4 1329.7 L 1206.4 1314.5 Z" fill="#000" stroke="#000" stroke-width="3.8"/>
<path d="M 1150.0 1312.3 L 1168.3 1306.8 L 1172.0 1325.1 M 1159.1 1309.9 L 1162.2 1325.1" stroke-width="3.8"/>
</g>
<clipPath id="c13"><path clip-rule="evenodd" d="M840.0 1300.0H1240.0V1620.0H840.0ZM1150.0 1300.0V1405.0H1240.0V1300.0ZM1000.0 1300.0V1405.0H1150.0V1300.0ZM1000.0 1405.0V1530.0H1240.0V1405.0ZM845.0 1390.0V1515.0H1000.0V1390.0Z"/></clipPath><g clip-path="url(#c13)">
<path d="M 1137.1 1300.0 L 1039.8 1351.9 L 950.9 1392.0 L 884.3 1420.8 Q 857.7 1428.6 853.3 1441.9 Q 852.2 1455.2 860.0 1464.1 L 906.5 1490.7 L 995.2 1523.9 L 1083.9 1557.2 L 1172.6 1588.2 L 1240.0 1603.8" stroke-width="3.8"/>
<path d="M 1154.9 1300.0 L 1061.7 1353.2 L 984.1 1388.7 L 906.5 1417.5 L 873.3 1431.9 Q 861.1 1438.6 861.1 1450.8" stroke-width="3.8"/>
<path d="M 860.0 1455.2 Q 866.6 1464.1 875.5 1468.5 L 928.7 1490.7 L 1017.4 1523.9 L 1106.1 1555.0 L 1172.6 1580.5 L 1240.0 1597.1" stroke-width="3.8"/>
<path d="M 872.2 1456.3 L 891.0 1453.0 L 904.3 1451.2 M 893.2 1471.2 L 922.0 1466.7" stroke-width="3.8"/>
<path d="M 944.2 1441.9 L 993.0 1420.8 L 1077.3 1382.5 L 1117.2 1364.7 L 1185.9 1331.5 L 1240.0 1307.1" stroke-width="3.8"/>
<path d="M 1075.0 1384.7 Q 1075.0 1393.1 1086.1 1397.6 L 1114.9 1410.9 L 1123.8 1409.8 L 1240.0 1461.9" stroke-width="3.8"/>
<path d="M 1079.5 1380.9 L 1117.2 1365.4 L 1185.9 1335.5 L 1240.0 1311.1" stroke-width="3.8"/>
<path d="M 990.8 1426.8 L 1083.9 1472.9 L 1240.0 1533.3" stroke-width="3.8"/>
<path d="M 981.9 1433.0 L 990.8 1428.6" stroke-width="3.8"/>
<path d="M 975.3 1397.6 L 995.2 1390.9 L 1008.5 1393.1 L 1021.8 1403.1 L 1017.4 1408.6 L 995.2 1419.7 Z M 984.1 1399.8 L 990.8 1410.9 L 999.6 1393.1 M 1001.9 1390.9 L 1015.2 1406.4" stroke-width="3.8"/>
<path d="M 1042.2 1377.6 Q 1052.9 1371.0 1061.7 1377.6 L 1060.6 1388.7 L 1051.1 1404.2 L 1044.0 1395.3 Z M 1046.2 1384.3 L 1050.6 1388.7" stroke-width="3.8"/>
<path d="M 1099.4 1343.9 Q 1108.3 1339.9 1116.1 1351.0 L 1113.8 1364.3 L 1103.9 1364.3 Z M 1106.1 1344.3 L 1105.0 1362.1" stroke-width="3.8"/>
<path d="M 1144.2 1313.7 L 1161.5 1303.3 L 1168.6 1311.1 L 1169.9 1335.5 L 1148.6 1333.7 Z M 1157.1 1313.3 L 1159.3 1322.2 L 1168.2 1317.7" stroke-width="3.8"/>
<path d="M 920.3 1429.0 L 933.1 1418.6 L 945.3 1420.8 L 944.7 1450.8 L 924.7 1449.0 Z M 920.9 1430.8 Q 933.1 1426.4 944.7 1421.5" stroke-width="3.8"/>
<path d="M 898.8 1431.3 L 913.2 1444.1 L 904.3 1455.2 L 904.3 1473.4 L 920.3 1473.4 L 922.5 1444.1 L 913.2 1444.1" stroke-width="3.8"/>
<path d="M 873.3 1457.4 L 891.0 1456.3 L 904.3 1455.2" stroke-width="3.8"/>
<path d="M 937.6 1455.2 L 955.3 1441.9 M 933.1 1459.6 L 955.3 1468.5" stroke-width="3.8"/>
<path d="M 958.0 1444.6 L 975.3 1446.8 L 977.9 1500.0 L 958.0 1495.6 Z M 964.2 1446.3 L 968.6 1497.3 M 970.8 1447.5 L 973.0 1498.4" stroke-width="3.8"/>
<path d="M 982.4 1456.3 L 991.2 1454.1 L 995.7 1460.1 L 993.4 1477.8 L 984.6 1477.8 Z" stroke-width="3.8"/>
<path d="M 989.0 1480.0 L 1006.7 1480.0 L 1009.0 1513.3 L 991.2 1515.5 Z M 995.2 1480.7 L 996.3 1514.0" stroke-width="3.8"/>
<path d="M 1079.5 1552.8 Q 1088.3 1518.4 1097.2 1518.4 Q 1108.3 1519.5 1115.4 1535.5 L 1117.2 1559.9 M 1097.2 1519.5 L 1098.3 1555.0" stroke-width="3.8"/>
<path d="M 1115.4 1531.0 L 1133.1 1528.8 L 1137.6 1568.7 L 1119.8 1564.3 Z M 1126.0 1530.6 L 1126.0 1566.1" stroke-width="3.8"/>
<path d="M 1166.4 1539.9 L 1177.5 1530.6 L 1186.3 1535.5 L 1190.8 1555.4 L 1199.6 1562.1 L 1199.6 1586.5 L 1170.8 1584.3 Z M 1183.7 1535.0 L 1185.9 1586.0" stroke-width="3.8"/>
<path d="M 1024.5 1498.4 L 1047.8 1473.4" stroke-width="4.0"/>
<path d="M 1047.8 1473.4 L 1159.3 1521.1 L 1137.6 1544.3" stroke-width="3.8"/>
<path d="M 1008.5 1495.1 L 1079.5 1528.4 M 1139.3 1546.1 L 1168.2 1557.2" stroke-width="3.8"/>
<path d="M 1090.6 1428.6 Q 1095.0 1423.1 1101.6 1430.8 L 1101.6 1451.2 L 1090.6 1451.2 Z M 1095.0 1428.6 L 1096.1 1450.8" stroke-width="3.8"/>
<path d="M 1092.8 1393.1 L 1108.3 1395.3 L 1111.0 1415.3 L 1095.0 1415.7 Z" fill="#000" stroke="#000" stroke-width="3.8"/>
<path d="M 1191.4 1487.4 A 10.0 10.0 0 1 1 1211.4 1487.4 A 10.0 10.0 0 1 1 1191.4 1487.4 Z M 1192.5 1488.5 L 1210.3 1486.3" stroke-width="3.8"/>
<path d="M 1205.9 1571.0 L 1240.0 1535.5 M 1205.9 1575.4 L 1240.0 1579.8" stroke-width="3.8"/>
<path d="M 1208.1 1311.1 L 1240.0 1331.0 M 1216.9 1306.7 L 1240.0 1322.2" stroke-width="3.8"/>
</g>
<clipPath id="c14"><path clip-rule="evenodd" d="M1240.0 1405.0H1700.0V1640.0H1240.0ZM1240.0 1405.0V1530.0H1500.0V1405.0Z"/></clipPath><g clip-path="url(#c14)">
<path d="M 1240.0 1602.8 L 1302.1 1587.3 L 1364.2 1556.2 L 1428.5 1509.6 L 1483.9 1458.6 L 1546.0 1401.0 L 1594.8 1350.0" stroke-width="3.8"/>
<path d="M 1240.0 1593.9 L 1302.1 1578.4 L 1364.2 1547.3 L 1428.5 1501.9 L 1483.9 1450.9 L 1546.0 1394.3 L 1588.1 1350.0" stroke-width="3.8"/>
<path d="M 1328.7 1549.6 L 1399.6 1505.2 L 1461.7 1456.4 L 1506.1 1416.5 L 1563.7 1358.9 L 1572.6 1350.0" stroke-width="3.8"/>
<path d="M 1324.3 1534.0 L 1373.0 1505.2 L 1435.1 1463.1 L 1466.2 1438.7 L 1532.7 1381.0 L 1554.9 1350.0" stroke-width="3.8"/>
<path d="M 1240.0 1531.8 L 1295.4 1516.3 L 1381.9 1478.6 L 1428.5 1452.0 L 1439.6 1454.2" stroke-width="3.8"/>
<path d="M 1240.0 1458.6 L 1271.0 1472.0 M 1286.6 1483.0 L 1302.1 1489.7" stroke-width="3.8"/>
<path d="M 1268.8 1467.5 L 1284.3 1469.7 L 1286.6 1489.7 L 1273.3 1490.8 Z" fill="#000" stroke="#000" stroke-width="3.8"/>
<path d="M 1297.6 1494.1 Q 1299.9 1487.5 1324.3 1487.5 L 1330.9 1497.5 L 1328.7 1505.2 L 1304.3 1509.6 Q 1296.5 1505.2 1297.6 1494.1 Z M 1306.5 1491.9 L 1307.6 1508.5" stroke-width="3.8"/>
<path d="M 1328.7 1498.6 L 1381.9 1476.4 L 1428.5 1452.0" stroke-width="3.8"/>
<path d="M 1240.0 1350.0 L 1324.3 1387.7 L 1428.5 1427.6 L 1448.4 1436.5 M 1240.0 1356.7 L 1350.9 1401.0 L 1432.9 1432.5" stroke-width="3.8"/>
<path d="M 1428.5 1438.7 L 1437.3 1432.0 L 1447.3 1427.6 L 1454.0 1443.1 L 1455.1 1454.2 L 1448.4 1460.9 L 1435.1 1458.6 L 1429.6 1447.6 Z M 1447.3 1428.7 L 1448.4 1454.2" stroke-width="3.8"/>
<path d="M 1378.6 1460.9 L 1386.3 1458.6 L 1395.2 1465.3 L 1393.0 1491.9 L 1381.9 1487.5 Z M 1386.3 1460.9 L 1388.6 1489.7" stroke-width="3.8"/>
<path d="M 1395.2 1465.3 L 1426.3 1449.8" stroke-width="3.8"/>
<path d="M 1393.0 1487.5 L 1435.1 1463.1 M 1395.2 1483.0 L 1435.1 1458.6" stroke-width="3.8"/>
<path d="M 1444.0 1414.3 L 1450.6 1411.0 L 1477.3 1423.2 L 1475.0 1427.6 L 1448.4 1416.5 Z" stroke-width="3.8"/>
<path d="M 1240.0 1538.5 L 1255.5 1536.3 L 1264.4 1545.1 L 1275.5 1562.9 L 1306.5 1554.0 L 1324.3 1549.6" stroke-width="3.8"/>
<path d="M 1293.2 1525.2 L 1306.5 1518.5 L 1317.6 1522.9 L 1324.3 1542.9 L 1333.1 1545.1" stroke-width="3.8"/>
<path d="M 1240.0 1549.6 L 1251.1 1549.6 L 1262.2 1578.4" stroke-width="3.8"/>
<path d="M 1262.2 1560.6 L 1324.3 1534.0 M 1266.6 1569.5 L 1328.7 1545.1" stroke-width="3.8"/>
</g>
<clipPath id="c15"><path clip-rule="evenodd" d="M1000.0 1280.0H1500.0V1530.0H1000.0ZM1150.0 1280.0V1405.0H1500.0V1280.0ZM1130.0 1290.0V1410.0H1150.0V1290.0ZM1150.0 1405.0V1410.0H1290.0V1405.0Z"/></clipPath><g clip-path="url(#c15)">
<path d="M 1000.0 1371.5 L 1171.8 1280.0" stroke-width="3.8"/>
<path d="M 1000.0 1384.8 L 1194.0 1280.0" stroke-width="3.8"/>
<path d="M 1000.0 1417.7 L 1079.0 1380.3" stroke-width="3.8"/>
<path d="M 1041.6 1390.9 L 1042.1 1379.8 Q 1049.9 1371.5 1059.6 1378.4 L 1059.6 1388.1 L 1051.3 1402.0 L 1041.6 1390.9 Z" stroke-width="3.8"/>
<path d="M 1047.1 1379.8 L 1051.3 1390.9" stroke-width="3.8"/>
<path d="M 1099.8 1344.3 Q 1106.7 1340.4 1114.2 1347.9 L 1116.4 1360.4 L 1103.1 1368.1 Z M 1107.5 1345.1 L 1109.5 1363.1" stroke-width="3.8"/>
<path d="M 1144.1 1316.6 Q 1155.2 1302.2 1166.3 1306.3 L 1169.6 1318.8 L 1169.1 1335.4 L 1149.7 1338.8 Z M 1158.0 1310.5 Q 1160.8 1321.6 1169.1 1321.6" stroke-width="3.8"/>
<path d="M 1076.2 1390.9 Q 1074.3 1382.5 1083.1 1377.6 L 1188.5 1330.4 Q 1196.8 1327.7 1206.5 1332.1 L 1440.7 1431.1" stroke-width="3.8"/>
<path d="M 1081.8 1384.8 L 1171.8 1338.8 L 1188.5 1335.4" stroke-width="5.0"/>
<path d="M 1083.1 1390.3 L 1191.2 1337.6 L 1432.4 1435.8" stroke-width="3.8"/>
<path d="M 1083.1 1390.3 Q 1085.9 1396.4 1097.0 1399.2 L 1116.4 1408.9 L 1271.6 1471.2 L 1288.2 1486.5 L 1302.1 1491.2" stroke-width="3.8"/>
<path d="M 1122.0 1414.4 L 1270.2 1477.3" stroke-width="3.8"/>
<path d="M 1094.2 1392.3 L 1108.1 1394.2 L 1110.9 1415.8 L 1097.0 1415.8 Z" fill="#000" stroke="#000" stroke-width="3.8"/>
<path d="M 1088.1 1426.9 Q 1092.8 1422.7 1099.8 1428.3 L 1100.3 1449.6 L 1089.2 1449.6 Z M 1094.2 1426.9 L 1094.8 1449.6" stroke-width="3.8"/>
<path d="M 1270.2 1467.1 L 1285.5 1469.9 L 1287.7 1490.6 L 1273.0 1488.4 Z" fill="#000" stroke="#000" stroke-width="3.8"/>
<path d="M 1297.9 1499.0 Q 1299.3 1487.9 1313.2 1489.3 L 1324.3 1487.9 L 1329.8 1496.2 L 1327.1 1504.5 L 1313.2 1508.7 Q 1297.9 1510.0 1297.9 1499.0 Z M 1307.6 1490.6 L 1306.3 1508.7" stroke-width="3.8"/>
<path d="M 1329.8 1494.8 L 1429.6 1451.8 M 1332.6 1501.7 L 1432.4 1460.2" stroke-width="3.8"/>
<path d="M 1379.7 1462.9 L 1388.0 1460.2 L 1393.6 1490.6 L 1385.3 1485.1 Z" stroke-width="3.8"/>
<path d="M 1429.6 1440.8 L 1443.5 1429.7 L 1454.5 1443.5 L 1449.0 1460.2 L 1435.1 1457.4 Z" stroke-width="3.8"/>
<path d="M 1329.8 1530.0 L 1373.1 1505.1 L 1435.1 1462.9 L 1465.9 1438.5 L 1500.0 1413.0" stroke-width="3.8"/>
<path d="M 1368.6 1530.0 L 1399.7 1505.1 L 1461.8 1456.3 L 1500.0 1421.9" stroke-width="3.8"/>
<path d="M 1388.6 1530.0 L 1428.5 1502.6 L 1483.9 1451.6 L 1500.0 1435.2" stroke-width="3.8"/>
<path d="M 1401.3 1530.0 L 1428.5 1510.6 L 1483.9 1459.6 L 1500.0 1443.5" stroke-width="3.8"/>
<path d="M 1440.7 1431.1 L 1451.8 1446.3 M 1432.4 1435.8 L 1440.7 1440.8" stroke-width="3.8"/>
<path d="M 1000.0 1431.1 L 1083.1 1471.2 L 1221.7 1530.0" stroke-width="3.8"/>
<path d="M 1000.0 1474.0 L 1008.3 1474.0 L 1005.5 1512.8" stroke-width="3.8"/>
<path d="M 1024.4 1497.6 L 1047.7 1474.0" stroke-width="5.0"/>
<path d="M 1047.7 1474.0 L 1160.8 1521.7" stroke-width="3.8"/>
<path d="M 1000.0 1493.4 L 1069.3 1521.1" stroke-width="3.8"/>
<path d="M 1083.1 1530.0 L 1094.2 1518.4 L 1108.1 1521.1 L 1113.6 1530.0 M 1116.4 1526.7 L 1130.3 1523.9" stroke-width="3.8"/>
<path d="M 1190.7 1487.9 A 10.5 8.9 0 1 1 1211.8 1487.9 A 10.5 8.9 0 1 1 1190.7 1487.9 Z M 1192.6 1487.3 L 1210.6 1484.5" stroke-width="3.8"/>
<path d="M 1293.8 1530.0 L 1302.1 1521.1 L 1316.0 1521.1 L 1322.9 1530.0" stroke-width="3.8"/>
<path d="M 1443.5 1414.4 L 1450.4 1410.8 L 1477.3 1423.6 L 1472.6 1427.5 Z" stroke-width="3.8"/>
</g>
<clipPath id="c16"><path clip-rule="evenodd" d="M845.0 1390.0H1000.0V1515.0H845.0Z"/></clipPath><g clip-path="url(#c16)">
<path d="M 953.9 1390.7 L 888.9 1419.9 L 863.0 1431.6 Q 854.7 1437.8 852.6 1448.2 Q 853.3 1457.9 860.2 1464.8 L 875.5 1474.5 L 890.7 1482.8 L 928.1 1500.9 L 955.9 1513.3 L 960.0 1515.0" stroke-width="3.8"/>
<path d="M 967.1 1398.3 L 919.8 1419.9 L 900.4 1428.1 L 872.7 1437.1 Q 865.1 1442.0 861.6 1449.6" stroke-width="3.8"/>
<path d="M 857.5 1457.9 Q 863.0 1463.4 872.7 1466.2 L 914.3 1484.2 L 955.9 1503.6 L 983.6 1515.0" stroke-width="3.8"/>
<path d="M 871.3 1457.9 L 906.0 1452.4 M 892.1 1469.7 L 903.2 1468.3 M 893.5 1472.5 L 903.2 1473.1" stroke-width="3.8"/>
<path d="M 899.0 1430.2 L 914.3 1441.3 L 910.1 1452.4 L 906.0 1457.9 L 903.2 1473.1 L 921.2 1473.1 L 922.6 1467.6 L 922.6 1445.4 L 919.8 1442.7 L 914.3 1441.3" stroke-width="3.8"/>
<path d="M 922.6 1452.4 L 936.5 1462.1 L 922.6 1467.6 M 936.5 1460.7 L 947.5 1452.4" stroke-width="3.8"/>
<path d="M 919.8 1430.2 L 928.1 1421.9 L 933.7 1417.7 L 944.8 1417.7 L 946.2 1420.5 L 946.2 1445.4 L 940.6 1449.6 L 935.1 1451.0 L 922.6 1442.7 L 919.8 1437.1 Z" stroke-width="3.8"/>
<path d="M 930.9 1420.5 Q 936.5 1423.3 944.8 1420.5" stroke-width="3.8"/>
<path d="M 947.5 1439.9 L 973.9 1431.6 L 999.9 1420.5" stroke-width="3.8"/>
<path d="M 939.2 1456.5 Q 942.0 1464.8 958.6 1473.1 M 947.5 1453.7 Q 954.5 1442.7 969.7 1437.1 L 980.8 1433.0" stroke-width="3.8"/>
<path d="M 958.6 1448.2 L 965.6 1441.3 L 978.0 1445.4 L 978.7 1462.1 L 976.7 1475.9 L 972.5 1499.5 L 967.0 1500.9 L 965.6 1489.8 L 958.6 1495.3 L 955.9 1489.8 L 958.6 1463.4 Z" stroke-width="3.8"/>
<path d="M 959.3 1449.6 L 965.6 1443.4 L 973.9 1446.1 L 974.6 1459.3 L 967.0 1457.9 L 960.0 1455.1 Z" fill="#000" stroke="#000" stroke-width="3.8"/>
<path d="M 964.2 1467.6 L 975.3 1470.4 L 969.7 1498.1" stroke-width="3.8"/>
<path d="M 982.2 1464.8 L 987.7 1453.7 L 996.1 1459.3 L 996.3 1481.5 L 983.6 1484.2 L 982.2 1473.1" stroke-width="3.8"/>
<path d="M 989.1 1487.0 L 1000.2 1478.7 M 989.1 1489.8 L 989.1 1515.0" stroke-width="3.8"/>
<path d="M 972.5 1398.3 L 983.6 1392.8 L 991.9 1390.0 M 975.3 1402.5 L 991.9 1417.7 L 996.1 1417.7 M 983.6 1394.2 L 991.9 1406.6" stroke-width="3.8"/>
</g>
<clipPath id="c17"><path clip-rule="evenodd" d="M1130.0 1290.0H1290.0V1410.0H1130.0Z"/></clipPath><g clip-path="url(#c17)">
<path d="M 1130.0 1303.3 L 1154.8 1290.0 M 1130.0 1316.6 L 1173.5 1290.0" stroke-width="3.8"/>
<path d="M 1143.3 1334.3 L 1143.3 1315.7 L 1153.9 1307.7 L 1160.2 1302.4 L 1163.7 1303.3 L 1168.1 1306.9 L 1169.9 1316.6 L 1172.6 1317.5 L 1172.6 1336.1 L 1155.7 1338.8 L 1146.0 1336.1 Z" stroke-width="3.8"/>
<path d="M 1156.6 1312.2 L 1161.9 1306.9 L 1165.5 1310.4 L 1167.3 1319.3 L 1164.6 1322.8 L 1157.5 1322.8 L 1155.7 1318.4 Z" stroke-width="3.8"/>
<path d="M 1172.6 1323.7 L 1236.4 1290.0" stroke-width="3.8"/>
<path d="M 1130.0 1352.1 L 1172.6 1335.7" stroke-width="8.0"/>
<path d="M 1130.0 1364.5 L 1187.6 1337.9 L 1199.2 1337.9 L 1290.0 1376.9" stroke-width="5.0"/>
<path d="M 1172.6 1332.6 L 1187.6 1329.0 L 1198.3 1329.0 L 1290.0 1366.3" stroke-width="3.8"/>
<path d="M 1214.7 1328.1 L 1290.0 1361.0" stroke-width="3.8"/>
<path d="M 1188.5 1319.3 L 1197.4 1320.2 L 1208.0 1325.5 L 1216.9 1321.0" stroke-width="3.8"/>
<path d="M 1205.4 1312.2 L 1211.6 1309.1 L 1240.9 1325.5 L 1241.8 1329.9 L 1236.4 1329.9 L 1206.3 1314.8 Z" fill="#000" stroke="#000" stroke-width="3.8"/>
<path d="M 1227.6 1315.7 L 1254.2 1299.8 L 1263.0 1290.0" stroke-width="3.8"/>
<path d="M 1254.2 1305.1 L 1255.1 1313.9 L 1271.0 1327.3 L 1290.0 1331.7" stroke-width="3.8"/>
<path d="M 1257.7 1305.1 L 1259.5 1298.0 L 1266.6 1291.8 L 1271.0 1290.0" stroke-width="3.8"/>
<path d="M 1264.8 1295.3 L 1264.8 1303.3 L 1270.1 1308.6 L 1290.0 1313.1" stroke-width="3.8"/>
<path d="M 1271.0 1311.3 L 1273.7 1329.0 L 1279.0 1329.0 M 1277.2 1309.5 L 1280.8 1330.8 L 1286.1 1331.7" stroke-width="3.8"/>
</g>
</g>
<use href="#p6" transform="translate(87.4 378.1)"/>
<g id="40_p7">
<path d="M 1189.1 1838.3 L 1204.1 1829.1 L 1214.1 1829.1 L 1224.9 1834.1 L 1224.9 1838.3 L 1204.9 1846.6 L 1200.8 1846.6 Z" stroke-width="4.0"/>
<path d="M 1200.0 1841.2 L 1208.3 1837.0 L 1214.9 1839.1 L 1208.3 1842.8 Z" stroke-width="4.0"/>
<path d="M 1216.6 1849.9 L 1233.2 1840.8 L 1239.9 1840.8 L 1252.8 1846.6 L 1252.8 1849.1 L 1233.2 1858.2 L 1228.2 1858.2 Z" stroke-width="4.0"/>
<path d="M 1226.6 1853.2 L 1236.5 1848.7 L 1243.2 1850.7 L 1234.9 1854.9 Z" stroke-width="4.0"/>
<path d="M 1244.9 1861.6 L 1263.1 1851.6 L 1267.3 1851.6 L 1277.3 1856.6 L 1277.3 1864.0 L 1263.1 1869.5 L 1254.8 1869.5 Z" stroke-width="4.0"/>
<path d="M 1254.8 1864.5 L 1264.0 1859.9 L 1269.8 1862.0 L 1261.5 1866.1 Z" stroke-width="4.0"/>
</g>
<g id="50_p8">
<clipPath id="c18"><path clip-rule="evenodd" d="M1400.0 1840.0H1750.0V2060.0H1400.0Z"/></clipPath><g clip-path="url(#c18)">
<path d="M 1417.5 1989.1 Q 1415.5 1996.9 1425.2 2001.7 L 1516.4 2039.5 L 1574.6 2059.9" stroke-width="5.0"/>
<path d="M 1417.5 1989.1 L 1454.3 1961.9 L 1458.2 1952.2 L 1481.5 1934.8 Q 1497.0 1927.0 1508.6 1927.0 L 1520.3 1930.9 L 1564.9 1950.3 L 1574.6 1954.2 L 1594.0 1961.9 L 1619.2 1977.5 L 1650.3 1985.2 L 1700.7 2008.5 Q 1712.4 2012.4 1714.3 2019.2 L 1710.4 2029.8 L 1691.0 2043.4 L 1665.8 2059.9" stroke-width="5.0"/>
<path d="M 1462.1 1927.0 L 1469.8 1917.3 L 1475.7 1920.2 L 1477.6 1934.8 M 1464.0 1942.5 L 1466.9 2006.6 L 1473.7 2008.5 L 1475.7 1938.6 M 1462.1 1927.0 L 1464.0 1942.5" stroke-width="5.0"/>
<path d="M 1466.0 1938.6 L 1469.8 1938.6 L 1471.8 2006.6 L 1467.5 2006.6 Z" fill="#000" stroke="#000" stroke-width="5.0"/>
<path d="M 1483.4 1938.6 L 1497.0 1944.5 L 1500.9 1954.2 L 1508.6 1954.2 L 1510.6 2000.7" stroke-width="5.0"/>
<path d="M 1475.7 1973.6 Q 1477.6 1965.8 1491.2 1965.8 Q 1506.7 1967.7 1504.8 1977.5 Q 1500.9 1983.3 1487.3 1983.3 Q 1475.7 1981.3 1475.7 1973.6 Z" stroke-width="5.0"/>
<path d="M 1479.5 1973.6 Q 1481.5 1968.7 1491.2 1968.7 Q 1501.9 1970.1 1500.9 1976.5 Q 1498.0 1980.4 1488.3 1980.4 Q 1479.5 1979.0 1479.5 1973.6 Z" fill="#000" stroke="#000" stroke-width="5.0"/>
<path d="M 1477.6 1996.9 Q 1481.5 1989.1 1493.1 1990.1 Q 1506.7 1992.0 1504.8 1996.9 Q 1500.9 2000.7 1491.2 2000.7 Q 1479.5 2000.7 1477.6 1996.9 Z" fill="#000" stroke="#000" stroke-width="5.0"/>
<path d="M 1491.2 2000.7 L 1493.1 2014.3" stroke-width="5.0"/>
<path d="M 1487.3 1934.8 L 1563.0 1956.1 L 1570.7 1954.2 M 1491.2 1938.6 L 1559.1 1961.9" stroke-width="5.0"/>
<path d="M 1528.0 1998.8 L 1568.8 1958.0 L 1574.6 1958.0 L 1613.4 1973.6 L 1566.9 2012.4 L 1547.5 2012.4 Z" stroke-width="5.0"/>
<path d="M 1535.8 2000.7 L 1570.7 1965.8 L 1603.7 1977.5 L 1561.0 2008.5 Z" stroke-width="5.0"/>
<path d="M 1539.7 2002.7 L 1578.5 1977.5 M 1545.5 2006.6 L 1586.3 1981.3" stroke-width="5.0"/>
<path d="M 1573.6 1934.8 L 1580.4 1932.8 L 1589.2 1940.6 L 1588.2 1954.2 L 1578.5 1952.2 Z" stroke-width="5.0"/>
<path d="M 1630.9 1958.0 L 1638.6 1957.1 L 1646.4 1963.9 L 1647.4 1985.2 L 1634.8 1985.2 Z" stroke-width="5.0"/>
<path d="M 1619.2 1977.5 L 1650.3 1985.2 L 1700.7 2008.5 M 1617.3 1989.1 L 1652.2 2000.7 L 1694.9 2016.3 L 1698.8 2020.1" stroke-width="5.0"/>
<path d="M 1508.6 2004.6 L 1543.6 2020.1 L 1555.2 2035.7 L 1539.7 2039.5" stroke-width="5.0"/>
<path d="M 1582.4 2012.4 L 1640.6 2008.5 L 1648.3 2016.3 L 1652.2 2043.4 L 1594.0 2053.1 L 1582.4 2039.5 Z" stroke-width="5.0"/>
<path d="M 1594.0 2016.3 L 1640.6 2012.4 M 1596.0 2029.8 L 1644.5 2024.0" stroke-width="5.0"/>
<path d="M 1605.7 2041.5 L 1632.8 2037.6 L 1636.7 2047.3 L 1609.5 2051.2 Z" fill="#000" stroke="#000" stroke-width="5.0"/>
<path d="M 1429.1 1983.3 L 1436.9 1979.4 L 1442.7 1983.3 L 1448.5 2004.6 L 1438.8 2006.6 Z" stroke-width="5.0"/>
<path d="M 1452.4 1954.2 L 1458.2 1950.3 L 1464.0 1956.1 L 1462.1 1965.8 L 1454.3 1965.8 Z" stroke-width="5.0"/>
<path d="M 1512.5 1938.6 L 1516.4 2000.7 M 1504.8 1954.2 L 1508.6 2004.6" stroke-width="5.0"/>
</g>
<clipPath id="c19"><path clip-rule="evenodd" d="M1400.0 2060.0H1750.0V2090.0H1400.0ZM1400.0 2070.0V2090.0H1560.0V2070.0Z"/></clipPath><g clip-path="url(#c19)">
<path d="M 1419.4 2000.0 L 1458.2 2015.5 L 1516.4 2038.8 L 1574.6 2062.1 L 1613.4 2079.5 Q 1623.1 2082.5 1638.6 2079.5 L 1671.6 2062.1 L 1702.7 2038.8 Q 1715.3 2025.2 1714.3 2017.5 L 1710.4 2009.7" stroke-width="5.0"/>
<path d="M 1438.8 2003.9 L 1516.4 2033.0 L 1594.0 2066.0" stroke-width="5.0"/>
<path d="M 1582.4 2011.6 L 1646.4 2003.9 L 1652.2 2013.6 L 1658.0 2048.5 L 1601.8 2054.3 L 1586.3 2054.3 L 1582.4 2044.6" stroke-width="5.0"/>
<path d="M 1594.0 2017.5 L 1642.5 2009.7 L 1646.4 2021.3 L 1597.9 2029.1 Z" stroke-width="5.0"/>
<path d="M 1596.0 2036.9 L 1650.3 2029.1" stroke-width="5.0"/>
<path d="M 1603.7 2039.8 L 1638.6 2035.9 L 1640.6 2046.6 L 1605.7 2050.4 Z" fill="#000" stroke="#000" stroke-width="5.0"/>
<path d="M 1508.6 2007.8 L 1516.4 2021.3 L 1524.2 2040.7" stroke-width="5.0"/>
<path d="M 1539.7 2021.3 L 1561.0 2021.3 L 1559.1 2036.9 L 1543.6 2038.8 Z" stroke-width="5.0"/>
<path d="M 1563.0 2033.0 L 1584.3 2031.0 L 1584.3 2044.6 L 1564.9 2046.6 Z" stroke-width="5.0"/>
<path d="M 1652.2 2005.8 L 1663.9 2011.6 L 1667.7 2031.0 L 1656.1 2033.0 M 1687.1 2011.6 L 1702.7 2007.8 L 1706.5 2019.4 L 1691.0 2023.3" stroke-width="5.0"/>
</g>
<clipPath id="c20"><path clip-rule="evenodd" d="M1400.0 2248.0H1750.0V2400.0H1400.0Z"/></clipPath><g clip-path="url(#c20)">
<path d="M 1578.5 2320.7 L 1594.0 2311.0 L 1661.9 2285.8 L 1679.4 2293.6 L 1679.4 2299.4 L 1621.2 2340.1 L 1611.5 2341.1 L 1578.5 2324.6 Z" stroke-width="5.5"/>
<path d="M 1586.3 2324.6 L 1613.4 2332.4 L 1671.6 2299.4" stroke-width="5.0"/>
<path d="M 1594.0 2285.8 L 1603.7 2277.1 L 1609.5 2285.8 L 1605.7 2314.9 L 1599.8 2313.0 Z" stroke-width="5.0"/>
<path d="M 1613.4 2281.9 L 1618.3 2276.1 L 1623.1 2281.9 L 1625.1 2311.0 L 1615.4 2314.9 Z" stroke-width="5.0"/>
<path d="M 1623.1 2262.5 L 1632.8 2255.7 L 1638.6 2264.5 L 1642.5 2299.4 L 1630.9 2305.2 Z" stroke-width="5.0"/>
<path d="M 1641.5 2259.6 L 1661.9 2264.5 L 1667.7 2270.3 L 1673.6 2293.6 L 1658.0 2299.4 L 1648.3 2270.3 Z" stroke-width="5.0"/>
<path d="M 1601.8 2297.5 L 1615.4 2285.8 L 1623.1 2301.3 L 1634.8 2289.7 L 1642.5 2305.2 M 1650.3 2274.2 L 1658.0 2266.4 M 1652.2 2285.8 L 1663.9 2276.1" stroke-width="5.0"/>
<path d="M 1667.7 2293.6 L 1679.4 2293.6 L 1679.4 2299.4 L 1671.6 2303.3 Z" fill="#000" stroke="#000" stroke-width="5.0"/>
</g>
</g>
<g id="51_p10">
<clipPath id="c21"><path clip-rule="evenodd" d="M1400.0 2070.0H1750.0V2248.0H1400.0ZM1560.0 2070.0V2090.0H1750.0V2070.0Z"/></clipPath><g clip-path="url(#c21)">
<path d="M 1456.3 2122.1 L 1497.0 2091.0 L 1495.1 2083.3 L 1502.8 2076.5 L 1506.7 2081.3 L 1505.7 2086.2 L 1516.4 2079.4 Q 1524.2 2076.5 1531.9 2077.5 L 1566.9 2092.0 L 1570.7 2091.0 Q 1578.5 2088.1 1584.3 2090.1 L 1605.7 2097.8 Q 1607.6 2094.0 1615.4 2094.9 L 1620.2 2100.7 L 1623.1 2107.5 L 1662.9 2121.1 Q 1665.8 2117.2 1671.6 2118.2 L 1676.5 2123.1 L 1677.4 2145.4 L 1735.6 2171.6 Q 1747.3 2178.3 1746.3 2184.2 L 1741.5 2195.8 L 1710.4 2215.2 L 1669.7 2240.4 Q 1652.2 2243.3 1632.8 2236.6 L 1555.2 2203.6 L 1481.5 2172.5 L 1458.2 2160.9 Q 1446.6 2155.1 1447.5 2145.4 L 1456.3 2135.7 Z" stroke-width="4.2"/>
<path d="M 1456.3 2130.8 L 1500.9 2142.5 L 1508.6 2142.5 L 1516.4 2133.7" stroke-width="4.2"/>
<path d="M 1479.5 2118.2 L 1520.3 2087.2 L 1531.9 2088.1 L 1555.2 2094.9 L 1557.2 2098.8 L 1516.4 2127.9 L 1504.8 2129.8 L 1493.1 2133.7 L 1481.5 2126.0 L 1479.5 2118.2 Z" stroke-width="4.2"/>
<path d="M 1487.3 2126.0 L 1524.2 2100.7 L 1537.7 2103.7 L 1549.4 2100.7 M 1491.2 2133.7 L 1516.4 2118.2 L 1524.2 2110.4" stroke-width="4.2"/>
<path d="M 1522.2 2087.2 L 1524.2 2100.7 M 1531.9 2089.1 L 1531.9 2102.7" stroke-width="4.2"/>
<path d="M 1495.1 2145.4 L 1497.0 2160.9 M 1504.8 2145.4 L 1505.7 2160.9" stroke-width="4.2"/>
<path d="M 1518.3 2131.8 L 1555.2 2104.6 L 1561.0 2110.4 L 1524.2 2137.6 Z" fill="#000" stroke="#000" stroke-width="4.2"/>
<path d="M 1516.4 2137.6 L 1574.6 2093.0 L 1582.4 2092.0 L 1615.4 2106.6 L 1615.4 2112.4 L 1561.0 2151.2 L 1547.5 2146.3 L 1535.8 2141.5 Z" stroke-width="4.2"/>
<path d="M 1528.0 2141.5 L 1578.5 2101.7 L 1609.5 2112.4 L 1559.1 2147.3" stroke-width="4.2"/>
<path d="M 1578.5 2102.7 L 1584.3 2120.1 L 1588.2 2120.1 M 1584.3 2102.7 L 1590.1 2118.2" stroke-width="4.2"/>
<path d="M 1516.4 2141.5 L 1559.1 2155.1 L 1564.9 2162.8 L 1605.7 2172.5 L 1613.4 2168.6" stroke-width="4.2"/>
<path d="M 1514.5 2145.4 L 1520.3 2172.5 L 1543.6 2180.3 L 1547.5 2195.8 M 1533.9 2176.4 Q 1534.8 2157.0 1538.7 2176.4 M 1553.3 2158.9 L 1561.0 2191.9" stroke-width="4.2"/>
<path d="M 1564.9 2155.1 L 1623.1 2116.3 L 1632.8 2115.3 L 1663.9 2127.9 L 1663.9 2135.7 L 1607.6 2171.6 L 1570.7 2160.9" stroke-width="4.2"/>
<path d="M 1574.6 2157.0 L 1625.1 2122.1 L 1658.0 2133.7 L 1605.7 2168.6" stroke-width="4.2"/>
<path d="M 1625.1 2122.1 L 1628.9 2141.5 L 1634.8 2143.4 M 1630.9 2118.2 L 1636.7 2137.6" stroke-width="4.2"/>
<path d="M 1665.8 2135.7 L 1671.6 2160.9" stroke-width="4.2"/>
<path d="M 1564.9 2162.8 L 1566.9 2193.9 L 1582.4 2197.7 L 1609.5 2199.7 L 1615.4 2195.8 M 1594.0 2172.5 L 1599.8 2199.7 M 1578.5 2195.8 Q 1579.5 2174.5 1584.3 2195.8" stroke-width="4.2"/>
<path d="M 1630.9 2174.5 L 1689.1 2165.7 L 1696.8 2172.5 L 1700.7 2211.3 L 1642.5 2219.1 L 1632.8 2215.2 Z" stroke-width="4.2"/>
<path d="M 1642.5 2182.2 L 1685.2 2175.4 L 1689.1 2195.8 L 1644.5 2203.6 Z" stroke-width="4.2"/>
<path d="M 1644.5 2203.6 L 1691.0 2196.8 L 1694.9 2209.4 L 1648.3 2215.2 Z" fill="#000" stroke="#000" stroke-width="4.2"/>
<path d="M 1621.2 2195.8 L 1632.8 2197.7 L 1638.6 2230.7 L 1627.0 2230.7 Z" stroke-width="4.2"/>
<path d="M 1694.9 2172.5 L 1702.7 2171.6 L 1710.4 2195.8 M 1714.3 2168.6 L 1725.9 2178.3 L 1729.8 2195.8 M 1727.9 2176.4 Q 1739.5 2176.4 1737.6 2186.1" stroke-width="4.2"/>
<path d="M 1481.5 2176.4 L 1555.2 2207.5 L 1632.8 2234.6 M 1638.6 2228.8 L 1669.7 2234.6 L 1710.4 2213.3" stroke-width="4.2"/>
<path d="M 1448.5 2147.3 L 1462.1 2137.6 L 1467.9 2141.5 L 1473.7 2162.8 M 1468.9 2149.2 Q 1467.9 2137.6 1464.0 2141.5" stroke-width="4.2"/>
</g>
</g></g>
</svg>
</body></html>
